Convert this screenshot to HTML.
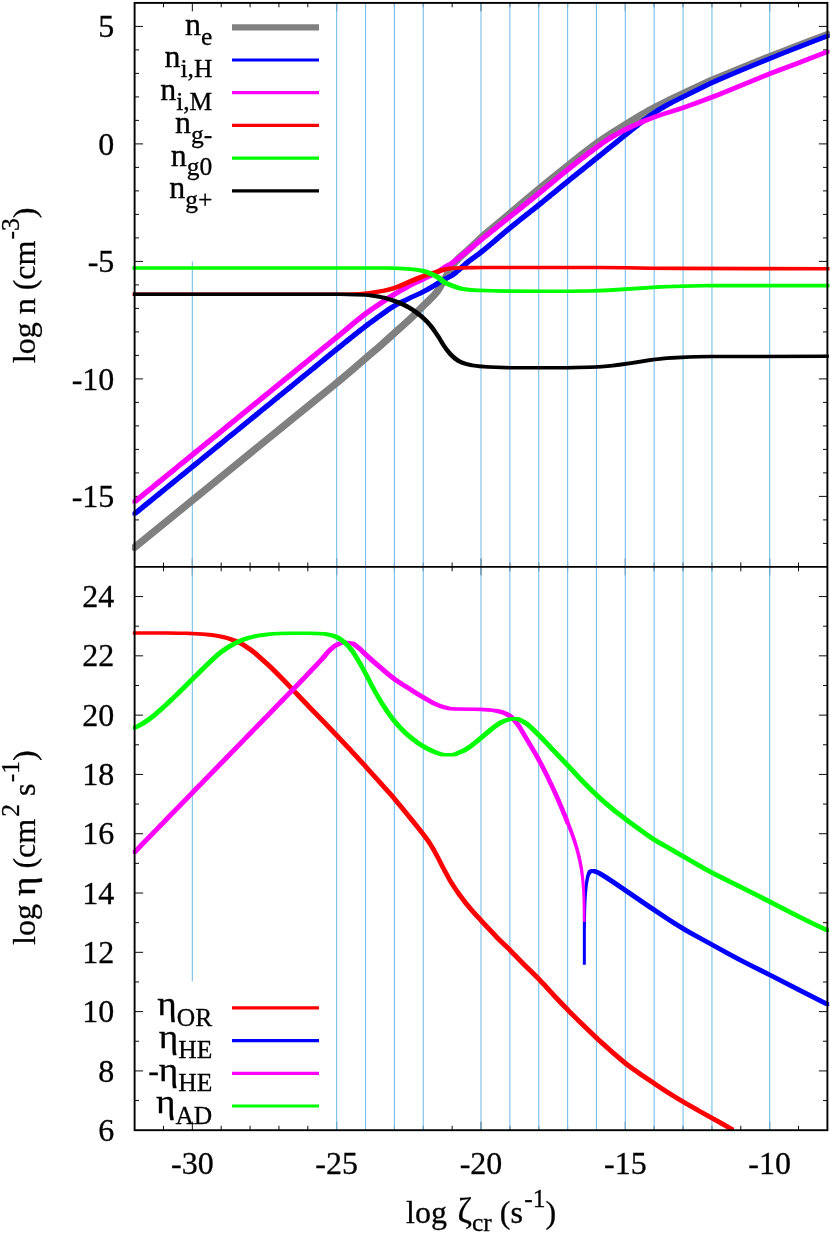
<!DOCTYPE html>
<html><head><meta charset="utf-8"><title>chart</title>
<style>html,body{margin:0;padding:0;background:#fff}body{width:830px;height:1235px;position:relative;overflow:hidden;font-family:"Liberation Serif",serif}</style>
</head><body>
<svg width="830" height="1235" viewBox="0 0 830 1235" style="will-change:transform;position:absolute;left:0;top:0;font-family:'Liberation Serif',serif">
<style>text{stroke:#000;stroke-width:0.3px;paint-order:stroke fill}</style>
<rect width="830" height="1235" fill="#fff"/>
<g stroke="#000" fill="none" stroke-width="0.95">
<line x1="163.47" x2="163.47" y1="2.9" y2="7.30"/>
<line x1="163.47" x2="163.47" y1="566.9" y2="562.50"/>
<line x1="163.47" x2="163.47" y1="566.9" y2="571.30"/>
<line x1="163.47" x2="163.47" y1="1130.2" y2="1125.80"/>
<line x1="192.33" x2="192.33" y1="2.9" y2="11.40"/>
<line x1="192.33" x2="192.33" y1="566.9" y2="558.40"/>
<line x1="192.33" x2="192.33" y1="566.9" y2="575.40"/>
<line x1="192.33" x2="192.33" y1="1130.2" y2="1121.70"/>
<line x1="221.20" x2="221.20" y1="2.9" y2="7.30"/>
<line x1="221.20" x2="221.20" y1="566.9" y2="562.50"/>
<line x1="221.20" x2="221.20" y1="566.9" y2="571.30"/>
<line x1="221.20" x2="221.20" y1="1130.2" y2="1125.80"/>
<line x1="250.07" x2="250.07" y1="2.9" y2="7.30"/>
<line x1="250.07" x2="250.07" y1="566.9" y2="562.50"/>
<line x1="250.07" x2="250.07" y1="566.9" y2="571.30"/>
<line x1="250.07" x2="250.07" y1="1130.2" y2="1125.80"/>
<line x1="278.93" x2="278.93" y1="2.9" y2="7.30"/>
<line x1="278.93" x2="278.93" y1="566.9" y2="562.50"/>
<line x1="278.93" x2="278.93" y1="566.9" y2="571.30"/>
<line x1="278.93" x2="278.93" y1="1130.2" y2="1125.80"/>
<line x1="307.80" x2="307.80" y1="2.9" y2="7.30"/>
<line x1="307.80" x2="307.80" y1="566.9" y2="562.50"/>
<line x1="307.80" x2="307.80" y1="566.9" y2="571.30"/>
<line x1="307.80" x2="307.80" y1="1130.2" y2="1125.80"/>
<line x1="336.67" x2="336.67" y1="2.9" y2="11.40"/>
<line x1="336.67" x2="336.67" y1="566.9" y2="558.40"/>
<line x1="336.67" x2="336.67" y1="566.9" y2="575.40"/>
<line x1="336.67" x2="336.67" y1="1130.2" y2="1121.70"/>
<line x1="365.53" x2="365.53" y1="2.9" y2="7.30"/>
<line x1="365.53" x2="365.53" y1="566.9" y2="562.50"/>
<line x1="365.53" x2="365.53" y1="566.9" y2="571.30"/>
<line x1="365.53" x2="365.53" y1="1130.2" y2="1125.80"/>
<line x1="394.40" x2="394.40" y1="2.9" y2="7.30"/>
<line x1="394.40" x2="394.40" y1="566.9" y2="562.50"/>
<line x1="394.40" x2="394.40" y1="566.9" y2="571.30"/>
<line x1="394.40" x2="394.40" y1="1130.2" y2="1125.80"/>
<line x1="423.27" x2="423.27" y1="2.9" y2="7.30"/>
<line x1="423.27" x2="423.27" y1="566.9" y2="562.50"/>
<line x1="423.27" x2="423.27" y1="566.9" y2="571.30"/>
<line x1="423.27" x2="423.27" y1="1130.2" y2="1125.80"/>
<line x1="452.13" x2="452.13" y1="2.9" y2="7.30"/>
<line x1="452.13" x2="452.13" y1="566.9" y2="562.50"/>
<line x1="452.13" x2="452.13" y1="566.9" y2="571.30"/>
<line x1="452.13" x2="452.13" y1="1130.2" y2="1125.80"/>
<line x1="481.00" x2="481.00" y1="2.9" y2="11.40"/>
<line x1="481.00" x2="481.00" y1="566.9" y2="558.40"/>
<line x1="481.00" x2="481.00" y1="566.9" y2="575.40"/>
<line x1="481.00" x2="481.00" y1="1130.2" y2="1121.70"/>
<line x1="509.87" x2="509.87" y1="2.9" y2="7.30"/>
<line x1="509.87" x2="509.87" y1="566.9" y2="562.50"/>
<line x1="509.87" x2="509.87" y1="566.9" y2="571.30"/>
<line x1="509.87" x2="509.87" y1="1130.2" y2="1125.80"/>
<line x1="538.73" x2="538.73" y1="2.9" y2="7.30"/>
<line x1="538.73" x2="538.73" y1="566.9" y2="562.50"/>
<line x1="538.73" x2="538.73" y1="566.9" y2="571.30"/>
<line x1="538.73" x2="538.73" y1="1130.2" y2="1125.80"/>
<line x1="567.60" x2="567.60" y1="2.9" y2="7.30"/>
<line x1="567.60" x2="567.60" y1="566.9" y2="562.50"/>
<line x1="567.60" x2="567.60" y1="566.9" y2="571.30"/>
<line x1="567.60" x2="567.60" y1="1130.2" y2="1125.80"/>
<line x1="596.47" x2="596.47" y1="2.9" y2="7.30"/>
<line x1="596.47" x2="596.47" y1="566.9" y2="562.50"/>
<line x1="596.47" x2="596.47" y1="566.9" y2="571.30"/>
<line x1="596.47" x2="596.47" y1="1130.2" y2="1125.80"/>
<line x1="625.33" x2="625.33" y1="2.9" y2="11.40"/>
<line x1="625.33" x2="625.33" y1="566.9" y2="558.40"/>
<line x1="625.33" x2="625.33" y1="566.9" y2="575.40"/>
<line x1="625.33" x2="625.33" y1="1130.2" y2="1121.70"/>
<line x1="654.20" x2="654.20" y1="2.9" y2="7.30"/>
<line x1="654.20" x2="654.20" y1="566.9" y2="562.50"/>
<line x1="654.20" x2="654.20" y1="566.9" y2="571.30"/>
<line x1="654.20" x2="654.20" y1="1130.2" y2="1125.80"/>
<line x1="683.07" x2="683.07" y1="2.9" y2="7.30"/>
<line x1="683.07" x2="683.07" y1="566.9" y2="562.50"/>
<line x1="683.07" x2="683.07" y1="566.9" y2="571.30"/>
<line x1="683.07" x2="683.07" y1="1130.2" y2="1125.80"/>
<line x1="711.93" x2="711.93" y1="2.9" y2="7.30"/>
<line x1="711.93" x2="711.93" y1="566.9" y2="562.50"/>
<line x1="711.93" x2="711.93" y1="566.9" y2="571.30"/>
<line x1="711.93" x2="711.93" y1="1130.2" y2="1125.80"/>
<line x1="740.80" x2="740.80" y1="2.9" y2="7.30"/>
<line x1="740.80" x2="740.80" y1="566.9" y2="562.50"/>
<line x1="740.80" x2="740.80" y1="566.9" y2="571.30"/>
<line x1="740.80" x2="740.80" y1="1130.2" y2="1125.80"/>
<line x1="769.67" x2="769.67" y1="2.9" y2="11.40"/>
<line x1="769.67" x2="769.67" y1="566.9" y2="558.40"/>
<line x1="769.67" x2="769.67" y1="566.9" y2="575.40"/>
<line x1="769.67" x2="769.67" y1="1130.2" y2="1121.70"/>
<line x1="798.53" x2="798.53" y1="2.9" y2="7.30"/>
<line x1="798.53" x2="798.53" y1="566.9" y2="562.50"/>
<line x1="798.53" x2="798.53" y1="566.9" y2="571.30"/>
<line x1="798.53" x2="798.53" y1="1130.2" y2="1125.80"/>
<line x1="134.6" x2="139.0" y1="543.40" y2="543.40"/>
<line x1="827.4" x2="823.0" y1="543.40" y2="543.40"/>
<line x1="134.6" x2="139.0" y1="519.90" y2="519.90"/>
<line x1="827.4" x2="823.0" y1="519.90" y2="519.90"/>
<line x1="134.6" x2="143.1" y1="496.40" y2="496.40"/>
<line x1="827.4" x2="818.9" y1="496.40" y2="496.40"/>
<line x1="134.6" x2="139.0" y1="472.90" y2="472.90"/>
<line x1="827.4" x2="823.0" y1="472.90" y2="472.90"/>
<line x1="134.6" x2="139.0" y1="449.40" y2="449.40"/>
<line x1="827.4" x2="823.0" y1="449.40" y2="449.40"/>
<line x1="134.6" x2="139.0" y1="425.90" y2="425.90"/>
<line x1="827.4" x2="823.0" y1="425.90" y2="425.90"/>
<line x1="134.6" x2="139.0" y1="402.40" y2="402.40"/>
<line x1="827.4" x2="823.0" y1="402.40" y2="402.40"/>
<line x1="134.6" x2="143.1" y1="378.90" y2="378.90"/>
<line x1="827.4" x2="818.9" y1="378.90" y2="378.90"/>
<line x1="134.6" x2="139.0" y1="355.40" y2="355.40"/>
<line x1="827.4" x2="823.0" y1="355.40" y2="355.40"/>
<line x1="134.6" x2="139.0" y1="331.90" y2="331.90"/>
<line x1="827.4" x2="823.0" y1="331.90" y2="331.90"/>
<line x1="134.6" x2="139.0" y1="308.40" y2="308.40"/>
<line x1="827.4" x2="823.0" y1="308.40" y2="308.40"/>
<line x1="134.6" x2="139.0" y1="284.90" y2="284.90"/>
<line x1="827.4" x2="823.0" y1="284.90" y2="284.90"/>
<line x1="134.6" x2="143.1" y1="261.40" y2="261.40"/>
<line x1="827.4" x2="818.9" y1="261.40" y2="261.40"/>
<line x1="134.6" x2="139.0" y1="237.90" y2="237.90"/>
<line x1="827.4" x2="823.0" y1="237.90" y2="237.90"/>
<line x1="134.6" x2="139.0" y1="214.40" y2="214.40"/>
<line x1="827.4" x2="823.0" y1="214.40" y2="214.40"/>
<line x1="134.6" x2="139.0" y1="190.90" y2="190.90"/>
<line x1="827.4" x2="823.0" y1="190.90" y2="190.90"/>
<line x1="134.6" x2="139.0" y1="167.40" y2="167.40"/>
<line x1="827.4" x2="823.0" y1="167.40" y2="167.40"/>
<line x1="134.6" x2="143.1" y1="143.90" y2="143.90"/>
<line x1="827.4" x2="818.9" y1="143.90" y2="143.90"/>
<line x1="134.6" x2="139.0" y1="120.40" y2="120.40"/>
<line x1="827.4" x2="823.0" y1="120.40" y2="120.40"/>
<line x1="134.6" x2="139.0" y1="96.90" y2="96.90"/>
<line x1="827.4" x2="823.0" y1="96.90" y2="96.90"/>
<line x1="134.6" x2="139.0" y1="73.40" y2="73.40"/>
<line x1="827.4" x2="823.0" y1="73.40" y2="73.40"/>
<line x1="134.6" x2="139.0" y1="49.90" y2="49.90"/>
<line x1="827.4" x2="823.0" y1="49.90" y2="49.90"/>
<line x1="134.6" x2="143.1" y1="26.40" y2="26.40"/>
<line x1="827.4" x2="818.9" y1="26.40" y2="26.40"/>
<line x1="134.6" x2="139.0" y1="1100.55" y2="1100.55"/>
<line x1="827.4" x2="823.0" y1="1100.55" y2="1100.55"/>
<line x1="134.6" x2="143.1" y1="1070.91" y2="1070.91"/>
<line x1="827.4" x2="818.9" y1="1070.91" y2="1070.91"/>
<line x1="134.6" x2="139.0" y1="1041.26" y2="1041.26"/>
<line x1="827.4" x2="823.0" y1="1041.26" y2="1041.26"/>
<line x1="134.6" x2="143.1" y1="1011.61" y2="1011.61"/>
<line x1="827.4" x2="818.9" y1="1011.61" y2="1011.61"/>
<line x1="134.6" x2="139.0" y1="981.96" y2="981.96"/>
<line x1="827.4" x2="823.0" y1="981.96" y2="981.96"/>
<line x1="134.6" x2="143.1" y1="952.32" y2="952.32"/>
<line x1="827.4" x2="818.9" y1="952.32" y2="952.32"/>
<line x1="134.6" x2="139.0" y1="922.67" y2="922.67"/>
<line x1="827.4" x2="823.0" y1="922.67" y2="922.67"/>
<line x1="134.6" x2="143.1" y1="893.02" y2="893.02"/>
<line x1="827.4" x2="818.9" y1="893.02" y2="893.02"/>
<line x1="134.6" x2="139.0" y1="863.37" y2="863.37"/>
<line x1="827.4" x2="823.0" y1="863.37" y2="863.37"/>
<line x1="134.6" x2="143.1" y1="833.73" y2="833.73"/>
<line x1="827.4" x2="818.9" y1="833.73" y2="833.73"/>
<line x1="134.6" x2="139.0" y1="804.08" y2="804.08"/>
<line x1="827.4" x2="823.0" y1="804.08" y2="804.08"/>
<line x1="134.6" x2="143.1" y1="774.43" y2="774.43"/>
<line x1="827.4" x2="818.9" y1="774.43" y2="774.43"/>
<line x1="134.6" x2="139.0" y1="744.78" y2="744.78"/>
<line x1="827.4" x2="823.0" y1="744.78" y2="744.78"/>
<line x1="134.6" x2="143.1" y1="715.14" y2="715.14"/>
<line x1="827.4" x2="818.9" y1="715.14" y2="715.14"/>
<line x1="134.6" x2="139.0" y1="685.49" y2="685.49"/>
<line x1="827.4" x2="823.0" y1="685.49" y2="685.49"/>
<line x1="134.6" x2="143.1" y1="655.84" y2="655.84"/>
<line x1="827.4" x2="818.9" y1="655.84" y2="655.84"/>
<line x1="134.6" x2="139.0" y1="626.19" y2="626.19"/>
<line x1="827.4" x2="823.0" y1="626.19" y2="626.19"/>
<line x1="134.6" x2="143.1" y1="596.55" y2="596.55"/>
<line x1="827.4" x2="818.9" y1="596.55" y2="596.55"/>
</g>
<g stroke="#78bfea" stroke-width="1.1">
<line x1="336.67" x2="336.67" y1="2.9" y2="1130.2"/>
<line x1="365.53" x2="365.53" y1="2.9" y2="1130.2"/>
<line x1="394.40" x2="394.40" y1="2.9" y2="1130.2"/>
<line x1="423.27" x2="423.27" y1="2.9" y2="1130.2"/>
<line x1="481.00" x2="481.00" y1="2.9" y2="1130.2"/>
<line x1="509.87" x2="509.87" y1="2.9" y2="1130.2"/>
<line x1="538.73" x2="538.73" y1="2.9" y2="1130.2"/>
<line x1="567.60" x2="567.60" y1="2.9" y2="1130.2"/>
<line x1="596.47" x2="596.47" y1="2.9" y2="1130.2"/>
<line x1="625.33" x2="625.33" y1="2.9" y2="1130.2"/>
<line x1="654.20" x2="654.20" y1="2.9" y2="1130.2"/>
<line x1="683.07" x2="683.07" y1="2.9" y2="1130.2"/>
<line x1="711.93" x2="711.93" y1="2.9" y2="1130.2"/>
<line x1="769.67" x2="769.67" y1="2.9" y2="1130.2"/>
<line x1="192.33" x2="192.33" y1="261.2" y2="981.2"/>
</g>
<defs><clipPath id="c1"><rect x="132.1" y="2.9" width="697.8" height="564.0"/></clipPath><clipPath id="c2"><rect x="132.1" y="566.9" width="697.8" height="563.3000000000001"/></clipPath></defs>
<g clip-path="url(#c1)" stroke="none">
<path d="M134.6,547.4 L308.1,406.1 L331.7,387.0 L340.1,380.1 L351.2,370.7 L370.6,354.1 L379.0,346.9 L384.5,342.0 L395.6,332.0 L403.9,324.6 L408.1,320.8 L412.3,316.8 L422.0,307.1 L424.8,304.4 L428.9,300.5 L431.7,297.7 L434.5,294.7 L435.9,293.1 L437.3,291.4 L438.7,289.4 L440.0,287.2 L445.6,277.4 L449.8,269.8 L451.1,267.6 L452.5,265.5 L453.9,263.7 L455.3,262.0 L456.7,260.4 L458.1,258.9 L459.5,257.5 L460.9,256.2 L466.4,251.4 L469.2,248.9 L478.9,239.8 L481.7,237.3 L485.9,233.6 L492.8,227.7 L508.1,215.0 L531.7,195.1 L542.8,185.9 L556.7,174.7 L583.0,153.6 L588.6,149.3 L592.8,146.1 L596.9,143.1 L601.1,140.2 L606.6,136.5 L612.2,132.8 L619.1,128.5 L627.5,123.3 L634.4,119.1 L641.4,115.0 L646.9,111.8 L651.1,109.5 L655.2,107.3 L660.8,104.4 L670.5,99.5 L685.8,92.2 L699.7,85.7 L710.8,80.7 L721.9,76.0 L735.8,70.3 L756.6,61.9 L789.9,48.8 L808.0,41.9 L827.4,34.6" fill="none" stroke="#808080" stroke-width="7.3" stroke-linecap="round" stroke-linejoin="round"/>
<path d="M132.5,512.0 134.0,510.9 134.2,510.6 137.0,508.4 137.2,508.1 138.5,507.2 138.8,506.9 140.0,506.0 140.2,505.7 141.5,504.8 141.8,504.5 143.0,503.5 143.2,503.2 144.5,502.3 144.8,502.0 146.0,501.1 146.2,500.8 147.5,499.9 147.8,499.6 149.0,498.6 149.2,498.4 150.5,497.4 150.8,497.1 152.0,496.2 152.2,495.9 153.5,495.0 153.8,494.7 155.2,493.6 155.5,493.3 156.8,492.3 157.0,492.1 158.2,491.1 158.5,490.8 159.8,489.9 160.0,489.6 162.8,487.5 163.0,487.2 164.2,486.2 164.5,485.9 165.8,485.0 166.0,484.7 168.8,482.6 169.0,482.3 171.8,480.1 172.0,479.8 173.2,478.9 173.5,478.6 174.8,477.7 175.0,477.4 176.5,476.3 176.8,476.0 178.0,475.0 178.2,474.8 179.5,473.8 179.8,473.5 181.0,472.6 181.2,472.3 182.5,471.4 182.8,471.1 184.0,470.2 184.2,469.9 185.5,468.9 185.8,468.6 187.0,467.7 187.2,467.4 188.5,466.5 188.8,466.2 190.0,465.3 190.2,465.0 191.5,464.0 191.8,463.8 193.0,462.8 193.2,462.5 194.5,461.6 194.8,461.3 197.5,459.2 197.8,458.9 199.2,457.7 199.5,457.5 200.8,456.5 201.0,456.2 203.8,454.1 204.0,453.8 206.8,451.6 207.0,451.3 208.2,450.4 208.5,450.1 209.8,449.2 210.0,448.9 211.2,448.0 211.5,447.7 212.8,446.7 213.0,446.5 214.2,445.5 214.5,445.2 217.2,443.1 217.5,442.8 218.8,441.9 219.0,441.6 220.5,440.4 220.8,440.2 223.5,438.0 223.8,437.7 225.0,436.8 225.2,436.5 226.5,435.6 226.8,435.3 229.5,433.1 229.8,432.8 232.5,430.7 232.8,430.4 235.5,428.2 235.8,427.9 238.5,425.8 238.8,425.5 241.5,423.3 241.8,423.1 243.2,421.9 243.5,421.6 244.8,420.7 245.0,420.4 246.2,419.5 246.5,419.2 247.8,418.3 248.0,418.0 249.2,417.0 249.5,416.8 252.2,414.6 252.5,414.3 253.8,413.4 254.0,413.1 255.2,412.1 255.5,411.9 256.8,410.9 257.0,410.6 258.2,409.7 258.5,409.4 259.8,408.5 260.0,408.2 261.2,407.3 261.5,407.0 262.8,406.0 263.0,405.8 264.5,404.6 264.8,404.3 267.5,402.2 267.8,401.9 270.5,399.7 270.8,399.5 272.0,398.5 272.2,398.2 273.5,397.3 273.8,397.0 275.0,396.1 275.2,395.8 276.5,394.8 276.8,394.6 278.0,393.6 278.2,393.3 279.5,392.4 279.8,392.1 281.0,391.2 281.2,390.9 284.0,388.7 284.2,388.5 285.5,387.5 285.8,387.2 287.2,386.1 287.5,385.8 288.8,384.9 289.0,384.6 290.2,383.7 290.5,383.4 291.8,382.4 292.0,382.2 293.2,381.2 293.5,380.9 294.8,380.0 295.0,379.7 296.2,378.8 296.5,378.5 297.8,377.5 298.0,377.3 299.2,376.3 299.5,376.0 300.8,375.1 301.0,374.8 302.2,373.9 302.5,373.6 303.8,372.7 304.0,372.4 306.8,370.2 307.0,369.9 308.5,368.8 308.8,368.5 310.0,367.6 310.2,367.3 311.5,366.4 311.8,366.1 313.0,365.1 313.2,364.8 314.5,363.9 314.8,363.6 317.5,361.4 317.8,361.2 319.0,360.2 319.2,359.9 320.5,359.0 320.8,358.7 322.0,357.8 322.2,357.5 323.5,356.5 323.8,356.3 325.0,355.3 325.2,355.0 326.5,354.1 326.8,353.8 328.0,352.9 328.2,352.6 331.2,350.3 331.5,350.0 334.2,347.8 334.5,347.6 335.8,346.6 336.0,346.3 337.2,345.4 337.5,345.1 338.8,344.2 339.0,343.9 340.2,343.0 340.5,342.7 341.8,341.8 342.0,341.5 343.2,340.5 343.5,340.3 344.8,339.3 345.0,339.0 346.2,338.1 346.5,337.8 347.8,336.9 348.0,336.6 349.2,335.7 349.5,335.4 350.8,334.5 351.0,334.2 352.5,333.1 352.8,332.8 355.5,330.7 355.8,330.4 357.0,329.5 357.2,329.3 358.5,328.3 358.8,328.1 360.0,327.2 360.2,326.9 363.0,324.9 363.2,324.6 364.5,323.7 364.8,323.5 366.0,322.6 366.2,322.3 367.5,321.5 367.8,321.2 370.5,319.3 370.8,319.0 373.8,316.9 374.0,316.7 375.2,315.8 375.5,315.6 376.8,314.8 377.0,314.5 378.2,313.7 378.5,313.4 379.8,312.6 380.0,312.4 381.2,311.5 381.5,311.3 382.8,310.5 383.0,310.2 385.8,308.3 386.0,308.1 387.2,307.3 387.5,307.1 392.0,304.2 394.8,302.7 395.0,302.5 399.8,300.1 405.5,297.4 408.8,295.8 417.8,291.7 422.2,289.4 422.5,289.2 423.8,288.6 424.0,288.4 426.8,286.9 427.0,286.7 428.2,286.1 428.5,285.9 429.8,285.2 430.0,285.0 432.8,283.4 433.0,283.2 434.2,282.6 434.5,282.3 437.2,280.7 437.5,280.5 438.8,279.8 439.0,279.6 442.0,277.8 442.2,277.6 443.8,276.7 448.0,274.7 449.5,273.9 451.0,272.9 451.2,272.6 452.5,271.7 452.8,271.5 454.0,270.5 454.2,270.2 455.5,269.2 455.8,268.9 458.5,266.6 458.8,266.3 460.0,265.3 460.2,264.9 461.8,263.7 462.0,263.4 463.2,262.4 463.5,262.1 464.8,261.1 465.0,260.8 466.2,259.9 466.5,259.6 467.8,258.8 468.0,258.5 469.2,257.6 469.5,257.4 470.8,256.5 471.0,256.3 472.2,255.5 472.5,255.2 473.8,254.4 474.0,254.1 476.8,252.2 477.0,251.9 478.2,251.0 478.5,250.8 481.2,248.6 481.5,248.4 482.8,247.4 483.0,247.1 484.5,246.0 484.8,245.7 487.5,243.5 487.8,243.2 489.0,242.2 489.2,241.9 490.5,241.0 490.8,240.7 492.0,239.7 492.2,239.4 493.5,238.4 493.8,238.1 496.5,235.8 496.8,235.5 498.0,234.5 498.2,234.2 499.5,233.2 499.8,233.0 501.0,232.0 501.2,231.7 504.0,229.4 504.2,229.1 505.8,228.0 506.0,227.7 507.2,226.7 507.5,226.5 508.8,225.5 509.0,225.2 511.8,223.1 512.0,222.8 513.2,221.9 513.5,221.6 514.8,220.7 515.0,220.4 516.2,219.5 516.5,219.2 517.8,218.3 518.0,218.0 519.2,217.1 519.5,216.8 520.8,215.9 521.0,215.6 522.2,214.7 522.5,214.4 523.8,213.5 524.0,213.3 525.2,212.3 525.5,212.1 526.8,211.2 527.0,210.9 528.5,209.8 528.8,209.5 530.0,208.6 530.2,208.3 531.5,207.4 531.8,207.1 533.0,206.2 533.2,205.9 536.0,203.8 536.2,203.5 537.5,202.6 537.8,202.3 539.0,201.4 539.2,201.1 540.5,200.2 540.8,199.9 542.0,198.9 542.2,198.7 543.5,197.7 543.8,197.4 545.0,196.5 545.2,196.2 548.0,194.0 548.2,193.8 549.8,192.6 550.0,192.4 551.2,191.4 551.5,191.1 552.8,190.2 553.0,189.9 554.2,189.0 554.5,188.7 555.8,187.7 556.0,187.4 557.2,186.5 557.5,186.2 558.8,185.3 559.0,185.0 560.2,184.1 560.5,183.8 561.8,182.8 562.0,182.5 564.8,180.4 565.0,180.1 566.2,179.2 566.5,178.9 569.2,176.7 569.5,176.5 571.0,175.3 571.2,175.1 574.0,172.9 574.2,172.6 575.5,171.7 575.8,171.4 577.0,170.5 577.2,170.2 578.5,169.3 578.8,169.0 580.0,168.1 580.2,167.8 581.5,166.9 581.8,166.6 583.0,165.7 583.2,165.4 584.5,164.5 584.8,164.2 586.0,163.3 586.2,163.0 587.5,162.0 587.8,161.8 589.0,160.8 589.2,160.6 590.5,159.6 590.8,159.3 592.0,158.4 592.2,158.1 593.8,157.0 594.0,156.7 595.2,155.8 595.5,155.5 596.8,154.6 597.0,154.3 598.2,153.4 598.5,153.1 599.8,152.2 600.0,151.9 601.2,151.0 601.5,150.7 604.2,148.5 604.5,148.3 605.8,147.3 606.0,147.1 607.2,146.1 607.5,145.8 608.8,144.9 609.0,144.6 611.8,142.5 612.0,142.2 613.2,141.3 613.5,141.0 615.0,139.9 615.2,139.6 616.5,138.7 616.8,138.4 618.0,137.5 618.2,137.2 619.5,136.3 619.8,136.0 621.0,135.0 621.2,134.8 622.5,133.8 622.8,133.6 624.0,132.6 624.2,132.4 625.5,131.4 625.8,131.2 628.5,129.0 628.8,128.7 630.0,127.8 630.2,127.5 633.0,125.4 633.2,125.1 634.5,124.2 634.8,123.9 636.0,123.0 636.2,122.7 637.8,121.7 638.0,121.4 640.8,119.4 641.0,119.1 642.2,118.2 642.5,118.0 643.8,117.1 644.0,116.9 646.8,114.9 647.0,114.6 648.2,113.8 648.5,113.6 649.8,112.7 650.0,112.5 652.8,110.7 653.0,110.5 654.2,109.7 654.5,109.5 657.2,107.8 657.5,107.6 659.0,106.8 659.2,106.6 662.0,105.0 662.2,104.8 663.5,104.1 663.8,103.9 665.0,103.3 665.2,103.1 669.8,100.7 701.5,84.9 710.8,80.6 719.8,76.6 739.5,68.2 751.8,63.2 786.5,49.2 806.2,41.5 825.2,34.3 825.5,34.2 829.5,34.2 829.5,37.8 817.5,42.3 799.2,49.4 785.5,54.8 764.2,63.4 762.8,64.0 741.5,72.7 728.0,78.4 718.8,82.4 711.2,85.8 703.8,89.4 673.2,104.6 673.0,104.8 671.8,105.4 671.5,105.6 668.8,107.0 668.5,107.2 667.2,107.9 667.0,108.1 665.8,108.7 665.5,108.9 662.8,110.5 662.5,110.7 661.2,111.4 661.0,111.7 658.2,113.3 658.0,113.6 656.8,114.3 656.5,114.5 653.5,116.5 653.2,116.8 652.0,117.6 651.8,117.8 650.5,118.7 650.2,118.9 647.5,120.9 647.2,121.1 644.5,123.2 644.2,123.4 641.5,125.5 641.2,125.7 640.0,126.6 639.8,126.9 637.0,129.0 636.8,129.3 635.5,130.2 635.2,130.5 632.5,132.6 632.2,132.9 630.8,134.0 630.5,134.3 629.2,135.2 629.0,135.5 627.8,136.4 627.5,136.7 626.2,137.6 626.0,137.9 624.8,138.8 624.5,139.1 623.2,140.0 623.0,140.3 621.8,141.2 621.5,141.5 620.2,142.5 620.0,142.7 618.8,143.7 618.5,143.9 617.2,144.9 617.0,145.2 615.8,146.1 615.5,146.4 614.2,147.3 614.0,147.6 611.2,149.7 611.0,150.0 609.5,151.1 609.2,151.4 608.0,152.3 607.8,152.6 606.5,153.5 606.2,153.8 605.0,154.8 604.8,155.0 603.5,156.0 603.2,156.2 602.0,157.2 601.8,157.5 600.5,158.4 600.2,158.7 599.0,159.6 598.8,159.9 597.5,160.8 597.2,161.1 596.0,162.0 595.8,162.3 594.5,163.2 594.2,163.5 593.0,164.4 592.8,164.7 590.0,166.9 589.8,167.1 588.2,168.2 588.0,168.5 586.8,169.5 586.5,169.7 585.2,170.7 585.0,170.9 583.8,171.9 583.5,172.2 582.2,173.1 582.0,173.4 580.8,174.3 580.5,174.6 579.2,175.5 579.0,175.8 577.8,176.7 577.5,177.0 576.2,177.9 576.0,178.2 573.2,180.3 573.0,180.6 570.2,182.8 570.0,183.1 567.2,185.2 567.0,185.5 565.5,186.6 565.2,186.9 564.0,187.8 563.8,188.1 562.5,189.1 562.2,189.3 561.0,190.3 560.8,190.6 559.5,191.5 559.2,191.8 558.0,192.7 557.8,193.0 555.0,195.2 554.8,195.5 553.5,196.4 553.2,196.7 552.0,197.6 551.8,197.9 550.5,198.9 550.2,199.2 549.0,200.1 548.8,200.4 547.5,201.3 547.2,201.6 546.0,202.5 545.8,202.8 544.2,203.9 544.0,204.2 542.8,205.2 542.5,205.4 541.2,206.4 541.0,206.7 539.8,207.6 539.5,207.9 536.8,210.0 536.5,210.3 535.2,211.2 535.0,211.5 533.8,212.4 533.5,212.6 532.2,213.6 532.0,213.8 530.8,214.8 530.5,215.0 529.2,215.9 529.0,216.2 527.8,217.1 527.5,217.4 526.2,218.3 526.0,218.6 524.8,219.5 524.5,219.8 521.5,222.1 521.2,222.3 520.0,223.3 519.8,223.5 518.5,224.5 518.2,224.7 515.5,226.9 515.2,227.2 514.0,228.1 513.8,228.4 512.5,229.3 512.2,229.6 511.0,230.5 510.8,230.8 508.0,233.0 507.8,233.3 506.5,234.3 506.2,234.6 505.0,235.6 504.8,235.9 502.0,238.1 501.8,238.4 500.2,239.6 500.0,239.9 498.8,240.9 498.5,241.2 497.2,242.2 497.0,242.5 495.8,243.5 495.5,243.8 494.2,244.8 494.0,245.1 491.2,247.3 491.0,247.6 489.8,248.6 489.5,248.8 488.2,249.8 488.0,250.1 486.8,251.0 486.5,251.3 483.8,253.4 483.5,253.7 482.2,254.6 482.0,254.9 480.8,255.8 480.5,256.0 479.2,256.9 479.0,257.1 477.5,258.1 477.2,258.4 476.0,259.2 475.8,259.5 474.5,260.3 474.2,260.6 473.0,261.4 472.8,261.7 471.5,262.5 471.2,262.8 470.0,263.7 469.8,264.0 468.5,264.9 468.2,265.2 467.0,266.2 466.8,266.5 465.5,267.5 465.2,267.8 464.0,268.9 463.8,269.2 462.5,270.2 462.2,270.5 461.0,271.5 460.8,271.8 459.5,272.8 459.2,273.1 458.0,274.1 457.8,274.4 456.2,275.5 456.0,275.8 454.8,276.6 454.5,276.9 453.0,277.8 451.5,278.6 448.8,279.9 447.2,280.6 447.0,280.8 445.8,281.5 445.5,281.7 442.8,283.4 442.5,283.6 441.2,284.3 441.0,284.6 438.2,286.2 438.0,286.4 435.2,287.9 435.0,288.1 433.5,288.9 433.2,289.2 432.0,289.8 431.8,290.0 429.0,291.5 428.8,291.7 427.5,292.3 427.2,292.5 424.2,294.1 421.2,295.5 412.2,299.6 409.0,301.3 404.8,303.2 400.2,305.5 400.0,305.7 397.2,307.1 397.0,307.3 395.8,308.0 395.5,308.2 394.2,308.9 394.0,309.1 392.8,309.9 392.5,310.1 391.0,311.0 390.8,311.3 389.5,312.1 389.2,312.3 388.0,313.2 387.8,313.4 386.5,314.2 386.2,314.5 383.5,316.4 383.2,316.6 382.0,317.5 381.8,317.7 380.5,318.5 380.2,318.8 379.0,319.6 378.8,319.8 377.5,320.7 377.2,320.9 376.0,321.8 375.8,322.0 373.0,324.0 372.8,324.2 371.5,325.1 371.2,325.3 370.0,326.2 369.8,326.5 366.8,328.6 366.5,328.9 365.2,329.8 365.0,330.1 363.8,331.0 363.5,331.2 362.2,332.1 362.0,332.4 359.2,334.5 359.0,334.8 357.8,335.7 357.5,336.0 356.2,336.9 356.0,337.2 354.8,338.1 354.5,338.4 353.2,339.3 353.0,339.6 351.8,340.5 351.5,340.8 348.8,342.9 348.5,343.2 347.0,344.3 346.8,344.6 345.5,345.5 345.2,345.8 344.0,346.8 343.8,347.0 342.5,348.0 342.2,348.3 341.0,349.2 340.8,349.5 339.5,350.4 339.2,350.7 338.0,351.6 337.8,351.9 336.5,352.8 336.2,353.1 335.0,354.0 334.8,354.3 333.5,355.3 333.2,355.5 332.0,356.5 331.8,356.8 330.5,357.7 330.2,358.0 329.0,358.9 328.8,359.2 327.5,360.1 327.2,360.4 326.0,361.4 325.8,361.7 324.2,362.8 324.0,363.1 322.8,364.0 322.5,364.3 321.2,365.2 321.0,365.5 319.8,366.5 319.5,366.7 318.2,367.7 318.0,368.0 316.8,368.9 316.5,369.2 313.8,371.4 313.5,371.6 312.2,372.6 312.0,372.9 310.8,373.8 310.5,374.1 307.8,376.3 307.5,376.5 306.2,377.5 306.0,377.8 304.8,378.7 304.5,379.0 303.0,380.1 302.8,380.4 301.5,381.3 301.2,381.6 300.0,382.6 299.8,382.8 298.5,383.8 298.2,384.1 297.0,385.0 296.8,385.3 294.0,387.4 293.8,387.7 291.0,389.9 290.8,390.2 288.0,392.3 287.8,392.6 286.5,393.6 286.2,393.8 285.0,394.8 284.8,395.1 283.5,396.0 283.2,396.3 282.0,397.2 281.8,397.5 280.2,398.6 280.0,398.9 278.8,399.9 278.5,400.1 275.8,402.3 275.5,402.6 272.8,404.7 272.5,405.0 269.8,407.2 269.5,407.5 268.2,408.4 268.0,408.7 266.8,409.6 266.5,409.9 265.2,410.9 265.0,411.1 262.2,413.3 262.0,413.6 260.8,414.5 260.5,414.8 259.0,415.9 258.8,416.2 257.5,417.2 257.2,417.4 256.0,418.4 255.8,418.7 254.5,419.6 254.2,419.9 251.5,422.0 251.2,422.3 248.5,424.5 248.2,424.8 245.5,426.9 245.2,427.2 242.5,429.4 242.2,429.7 241.0,430.6 240.8,430.9 239.5,431.8 239.2,432.1 238.0,433.0 237.8,433.3 236.2,434.5 236.0,434.7 234.8,435.7 234.5,436.0 233.2,436.9 233.0,437.2 231.8,438.1 231.5,438.4 230.2,439.3 230.0,439.6 228.8,440.6 228.5,440.8 227.2,441.8 227.0,442.1 225.8,443.0 225.5,443.3 222.8,445.5 222.5,445.7 219.8,447.9 219.5,448.2 216.8,450.3 216.5,450.6 215.0,451.8 214.8,452.0 213.5,453.0 213.2,453.3 210.5,455.4 210.2,455.7 209.0,456.6 208.8,456.9 206.0,459.1 205.8,459.4 204.5,460.3 204.2,460.6 203.0,461.5 202.8,461.8 201.5,462.8 201.2,463.0 200.0,464.0 199.8,464.3 198.5,465.2 198.2,465.5 197.0,466.4 196.8,466.7 194.0,468.9 193.8,469.1 192.2,470.3 192.0,470.6 189.2,472.7 189.0,473.0 187.8,473.9 187.5,474.2 186.2,475.2 186.0,475.4 184.8,476.4 184.5,476.7 183.2,477.6 183.0,477.9 181.8,478.8 181.5,479.1 180.2,480.1 180.0,480.3 178.8,481.3 178.5,481.6 177.2,482.5 177.0,482.8 175.8,483.7 175.5,484.0 174.2,484.9 174.0,485.2 172.8,486.2 172.5,486.4 171.0,487.6 170.8,487.9 169.5,488.8 169.2,489.1 168.0,490.0 167.8,490.3 166.5,491.2 166.2,491.5 165.0,492.5 164.8,492.7 162.0,494.9 161.8,495.2 159.0,497.4 158.8,497.6 156.0,499.8 155.8,500.1 153.0,502.2 152.8,502.5 151.5,503.5 151.2,503.7 149.8,504.9 149.5,505.2 148.2,506.1 148.0,506.4 145.2,508.5 145.0,508.8 143.8,509.8 143.5,510.0 142.2,511.0 142.0,511.3 140.8,512.2 140.5,512.5 139.2,513.4 139.0,513.7 137.8,514.6 137.5,514.9 136.8,515.5 136.5,515.6 132.5,515.6Z" fill="#0000ff"/>
<path d="M132.5,500.0 134.0,498.9 134.2,498.6 135.5,497.7 135.8,497.4 137.0,496.4 137.2,496.2 138.5,495.2 138.8,494.9 140.0,494.0 140.2,493.7 141.5,492.8 141.8,492.5 143.0,491.5 143.2,491.3 144.5,490.3 144.8,490.0 146.0,489.1 146.2,488.8 147.5,487.9 147.8,487.6 149.0,486.7 149.2,486.4 150.5,485.4 150.8,485.2 152.0,484.2 152.2,483.9 153.5,483.0 153.8,482.7 155.2,481.6 155.5,481.3 158.2,479.1 158.5,478.9 159.8,477.9 160.0,477.6 161.2,476.7 161.5,476.4 162.8,475.5 163.0,475.2 164.2,474.2 164.5,474.0 165.8,473.0 166.0,472.7 167.2,471.8 167.5,471.5 168.8,470.6 169.0,470.3 170.2,469.4 170.5,469.1 171.8,468.1 172.0,467.9 174.8,465.7 175.0,465.4 176.5,464.3 176.8,464.0 178.0,463.1 178.2,462.8 179.5,461.8 179.8,461.6 181.0,460.6 181.2,460.3 182.5,459.4 182.8,459.1 184.0,458.2 184.2,457.9 185.5,456.9 185.8,456.7 187.0,455.7 187.2,455.4 188.5,454.5 188.8,454.2 190.0,453.3 190.2,453.0 191.5,452.1 191.8,451.8 193.0,450.8 193.2,450.6 194.5,449.6 194.8,449.3 197.5,447.2 197.8,446.9 199.2,445.8 199.5,445.5 200.8,444.5 201.0,444.3 202.2,443.3 202.5,443.0 203.8,442.1 204.0,441.8 205.2,440.9 205.5,440.6 206.8,439.6 207.0,439.4 208.2,438.4 208.5,438.1 209.8,437.2 210.0,436.9 211.2,436.0 211.5,435.7 212.8,434.8 213.0,434.5 214.2,433.5 214.5,433.3 215.8,432.3 216.0,432.0 217.2,431.1 217.5,430.8 218.8,429.9 219.0,429.6 220.5,428.5 220.8,428.2 222.0,427.2 222.2,427.0 223.5,426.0 223.8,425.7 225.0,424.8 225.2,424.5 226.5,423.6 226.8,423.3 228.0,422.3 228.2,422.1 229.5,421.1 229.8,420.8 231.0,419.9 231.2,419.6 232.5,418.7 232.8,418.4 234.0,417.5 234.2,417.2 235.5,416.2 235.8,416.0 237.0,415.0 237.2,414.7 238.5,413.8 238.8,413.5 240.0,412.6 240.2,412.3 241.5,411.3 241.8,411.1 243.2,409.9 243.5,409.7 244.8,408.7 245.0,408.4 246.2,407.5 246.5,407.2 247.8,406.3 248.0,406.0 249.2,405.0 249.5,404.8 252.2,402.6 252.5,402.3 253.8,401.4 254.0,401.1 255.2,400.2 255.5,399.9 256.8,398.9 257.0,398.7 258.2,397.7 258.5,397.4 259.8,396.5 260.0,396.2 262.8,394.0 263.0,393.8 264.5,392.6 264.8,392.4 267.5,390.2 267.8,389.9 270.5,387.8 270.8,387.5 272.0,386.5 272.2,386.2 273.5,385.3 273.8,385.0 275.0,384.1 275.2,383.8 276.5,382.9 276.8,382.6 278.0,381.6 278.2,381.4 279.5,380.4 279.8,380.1 282.5,378.0 282.8,377.7 284.0,376.8 284.2,376.5 285.5,375.5 285.8,375.2 287.2,374.1 287.5,373.8 288.8,372.9 289.0,372.6 290.2,371.7 290.5,371.4 291.8,370.5 292.0,370.2 293.2,369.2 293.5,368.9 294.8,368.0 295.0,367.7 296.2,366.8 296.5,366.5 297.8,365.6 298.0,365.3 299.2,364.3 299.5,364.1 300.8,363.1 301.0,362.8 302.2,361.9 302.5,361.6 303.8,360.7 304.0,360.4 305.2,359.5 305.5,359.2 306.8,358.2 307.0,357.9 308.5,356.8 308.8,356.5 310.0,355.6 310.2,355.3 311.5,354.4 311.8,354.1 313.0,353.2 313.2,352.9 314.5,351.9 314.8,351.6 316.0,350.7 316.2,350.4 317.5,349.5 317.8,349.2 319.0,348.3 319.2,348.0 320.5,347.0 320.8,346.8 322.0,345.8 322.2,345.5 323.5,344.6 323.8,344.3 326.5,342.2 326.8,341.9 328.0,340.9 328.2,340.6 329.5,339.7 329.8,339.4 331.2,338.3 331.5,338.0 334.2,335.9 334.5,335.6 335.8,334.6 336.0,334.3 338.8,332.2 339.0,331.9 340.2,330.9 340.5,330.6 341.8,329.7 342.0,329.4 344.8,327.1 345.0,326.9 346.2,325.9 346.5,325.6 349.2,323.4 349.5,323.1 350.8,322.1 351.0,321.9 354.0,319.5 354.2,319.2 357.0,317.1 357.2,316.8 358.5,315.9 358.8,315.6 361.5,313.5 361.8,313.3 364.5,311.3 364.8,311.0 366.0,310.2 366.2,309.9 369.0,308.0 369.2,307.8 372.0,306.0 372.2,305.7 373.8,304.8 374.0,304.5 375.2,303.7 375.5,303.5 376.8,302.7 377.0,302.5 379.8,300.7 380.0,300.5 382.8,298.7 383.0,298.5 384.2,297.7 384.5,297.5 385.8,296.7 386.0,296.5 387.2,295.7 387.5,295.5 390.2,293.8 390.5,293.6 391.8,292.9 392.0,292.7 394.8,291.1 395.0,290.9 396.5,290.1 396.8,289.9 398.0,289.2 398.2,289.0 399.5,288.3 399.8,288.1 402.5,286.6 402.8,286.4 408.8,283.2 413.2,281.0 420.8,277.5 422.5,276.6 429.8,273.2 434.2,271.0 437.2,269.2 437.5,269.0 438.8,268.2 439.0,268.0 440.5,267.1 440.8,266.8 442.0,266.1 442.2,265.8 445.2,264.1 448.0,262.6 448.2,262.4 449.5,261.7 449.8,261.4 451.0,260.6 451.2,260.4 452.5,259.5 452.8,259.3 454.0,258.3 454.2,258.1 455.5,257.1 455.8,256.8 458.5,254.7 458.8,254.4 460.0,253.5 460.2,253.2 461.8,252.0 462.0,251.8 463.2,250.8 463.5,250.5 464.8,249.6 465.0,249.3 466.2,248.4 466.5,248.1 467.8,247.1 468.0,246.9 469.2,245.9 469.5,245.6 470.8,244.7 471.0,244.4 472.2,243.5 472.5,243.2 473.8,242.2 474.0,242.0 475.2,241.0 475.5,240.7 476.8,239.8 477.0,239.5 478.2,238.6 478.5,238.3 481.2,236.2 481.5,235.9 484.5,233.6 484.8,233.3 487.5,231.2 487.8,230.9 489.0,230.0 489.2,229.7 490.5,228.8 490.8,228.5 492.0,227.6 492.2,227.3 493.5,226.4 493.8,226.1 495.0,225.2 495.2,224.9 496.5,224.0 496.8,223.7 498.0,222.8 498.2,222.5 499.5,221.6 499.8,221.4 501.0,220.4 501.2,220.2 504.0,218.0 504.2,217.8 505.8,216.7 506.0,216.4 507.2,215.5 507.5,215.2 508.8,214.3 509.0,214.0 510.2,213.0 510.5,212.8 511.8,211.8 512.0,211.6 513.2,210.6 513.5,210.4 514.8,209.4 515.0,209.2 516.2,208.2 516.5,208.0 517.8,207.0 518.0,206.7 519.2,205.8 519.5,205.5 520.8,204.6 521.0,204.3 522.2,203.4 522.5,203.1 523.8,202.2 524.0,201.9 526.8,199.8 527.0,199.5 528.5,198.4 528.8,198.1 530.0,197.2 530.2,196.9 531.5,195.9 531.8,195.7 533.0,194.7 533.2,194.4 534.5,193.5 534.8,193.2 536.0,192.3 536.2,192.0 537.5,191.1 537.8,190.8 540.5,188.6 540.8,188.3 542.0,187.4 542.2,187.1 543.5,186.1 543.8,185.8 545.0,184.9 545.2,184.6 546.5,183.6 546.8,183.3 548.0,182.4 548.2,182.1 549.8,180.9 550.0,180.7 552.8,178.5 553.0,178.2 554.2,177.2 554.5,176.9 555.8,176.0 556.0,175.7 557.2,174.7 557.5,174.4 558.8,173.5 559.0,173.2 561.8,171.0 562.0,170.8 563.2,169.8 563.5,169.6 564.8,168.6 565.0,168.4 566.2,167.4 566.5,167.2 567.8,166.2 568.0,166.0 569.2,165.0 569.5,164.8 571.0,163.7 571.2,163.4 574.0,161.3 574.2,161.0 575.5,160.1 575.8,159.8 577.0,158.9 577.2,158.6 578.5,157.7 578.8,157.4 580.0,156.5 580.2,156.3 583.0,154.2 583.2,153.9 584.5,153.1 584.8,152.8 586.0,151.9 586.2,151.6 589.0,149.6 589.2,149.4 592.0,147.4 592.2,147.2 593.8,146.2 594.0,145.9 595.2,145.1 595.5,144.8 596.8,144.0 597.0,143.7 599.8,141.9 600.0,141.6 602.8,139.8 603.0,139.5 604.2,138.7 604.5,138.5 605.8,137.8 606.0,137.5 608.8,135.8 609.0,135.6 611.8,134.0 612.0,133.8 613.2,133.2 613.5,133.0 616.5,131.4 616.8,131.2 618.0,130.5 618.2,130.4 624.2,127.3 628.8,125.1 634.8,122.4 642.5,119.1 648.5,116.7 653.0,115.0 657.5,113.4 663.8,111.4 675.5,107.8 681.8,105.7 692.2,102.0 703.0,98.0 712.0,94.5 718.0,92.2 754.8,77.2 768.2,71.8 780.5,67.1 795.5,61.4 824.5,50.3 825.5,50.0 829.5,50.0 829.5,53.6 828.0,54.1 796.0,66.4 782.5,71.5 772.0,75.5 758.2,81.0 721.8,95.9 715.5,98.4 706.5,101.8 695.8,105.8 685.2,109.5 679.2,111.5 668.8,114.7 662.8,116.6 656.8,118.7 652.0,120.5 646.0,123.0 638.5,126.2 632.5,128.9 627.8,131.2 623.2,133.5 623.0,133.6 621.8,134.3 621.5,134.5 618.8,135.9 618.5,136.1 617.2,136.8 617.0,137.0 614.2,138.5 614.0,138.7 612.8,139.4 612.5,139.7 609.5,141.5 609.2,141.7 608.0,142.5 607.8,142.7 606.5,143.5 606.2,143.8 603.5,145.6 603.2,145.9 602.0,146.7 601.8,146.9 600.5,147.8 600.2,148.0 599.0,148.8 598.8,149.1 597.5,149.9 597.2,150.2 594.5,152.1 594.2,152.4 593.0,153.2 592.8,153.5 591.5,154.4 591.2,154.6 590.0,155.5 589.8,155.8 586.8,158.0 586.5,158.3 585.2,159.2 585.0,159.4 583.8,160.3 583.5,160.6 582.2,161.5 582.0,161.8 580.8,162.7 580.5,163.0 577.8,165.1 577.5,165.3 576.2,166.2 576.0,166.5 574.8,167.4 574.5,167.7 573.2,168.6 573.0,168.9 571.8,169.8 571.5,170.1 570.2,171.0 570.0,171.3 568.8,172.2 568.5,172.5 567.2,173.4 567.0,173.7 564.0,176.1 563.8,176.3 562.5,177.3 562.2,177.6 561.0,178.5 560.8,178.8 559.5,179.8 559.2,180.0 558.0,181.0 557.8,181.3 556.5,182.2 556.2,182.5 555.0,183.5 554.8,183.8 552.0,186.0 551.8,186.3 550.5,187.2 550.2,187.5 549.0,188.5 548.8,188.8 547.5,189.7 547.2,190.0 546.0,191.0 545.8,191.3 544.2,192.4 544.0,192.7 542.8,193.6 542.5,193.9 539.8,196.1 539.5,196.4 538.2,197.3 538.0,197.6 536.8,198.5 536.5,198.8 535.2,199.7 535.0,200.0 533.8,200.9 533.5,201.2 532.2,202.2 532.0,202.4 529.2,204.6 529.0,204.9 527.8,205.8 527.5,206.1 526.2,207.0 526.0,207.3 524.8,208.2 524.5,208.5 523.2,209.4 523.0,209.7 520.0,212.0 519.8,212.3 518.5,213.2 518.2,213.5 517.0,214.4 516.8,214.7 515.5,215.6 515.2,215.9 514.0,216.8 513.8,217.1 512.5,218.0 512.2,218.3 511.0,219.2 510.8,219.5 509.5,220.4 509.2,220.7 508.0,221.6 507.8,221.9 506.5,222.8 506.2,223.1 505.0,224.0 504.8,224.3 502.0,226.4 501.8,226.7 500.2,227.8 500.0,228.1 498.8,229.0 498.5,229.3 497.2,230.2 497.0,230.5 495.8,231.4 495.5,231.7 494.2,232.6 494.0,232.8 492.8,233.8 492.5,234.0 491.2,235.0 491.0,235.2 489.8,236.2 489.5,236.4 486.8,238.6 486.5,238.8 485.2,239.8 485.0,240.0 482.2,242.2 482.0,242.5 480.8,243.4 480.5,243.7 477.5,246.0 477.2,246.3 476.0,247.3 475.8,247.5 473.0,249.7 472.8,250.0 471.5,250.9 471.2,251.2 470.0,252.2 469.8,252.4 468.5,253.4 468.2,253.7 467.0,254.6 466.8,254.9 464.0,257.1 463.8,257.3 462.5,258.3 462.2,258.6 461.0,259.5 460.8,259.8 459.5,260.7 459.2,261.0 458.0,261.9 457.8,262.2 456.2,263.3 456.0,263.6 454.8,264.4 454.5,264.7 451.5,266.5 450.2,267.2 450.0,267.3 447.2,268.9 447.0,269.1 445.8,269.8 445.5,270.0 444.2,270.8 444.0,271.1 442.8,271.8 442.5,272.1 441.2,272.8 441.0,273.1 438.0,274.8 435.0,276.3 426.0,280.5 424.2,281.4 417.0,284.8 412.2,287.1 406.2,290.4 406.0,290.5 404.8,291.2 404.5,291.4 403.2,292.0 403.0,292.2 400.2,293.8 400.0,294.0 398.8,294.7 398.5,294.9 397.2,295.6 397.0,295.8 394.2,297.4 394.0,297.6 391.0,299.5 390.8,299.7 389.5,300.5 389.2,300.7 386.5,302.4 386.2,302.7 383.5,304.5 383.2,304.7 382.0,305.5 381.8,305.7 380.5,306.5 380.2,306.7 379.0,307.5 378.8,307.7 377.5,308.5 377.2,308.8 374.5,310.6 374.2,310.8 371.5,312.7 371.2,313.0 370.0,313.8 369.8,314.0 368.2,315.1 368.0,315.3 366.8,316.2 366.5,316.4 365.2,317.3 365.0,317.6 362.2,319.7 362.0,319.9 360.8,320.9 360.5,321.1 357.8,323.3 357.5,323.6 356.2,324.5 356.0,324.8 354.8,325.7 354.5,326.0 353.2,327.0 353.0,327.3 351.8,328.2 351.5,328.5 348.8,330.7 348.5,331.0 345.5,333.4 345.2,333.7 344.0,334.7 343.8,335.0 342.5,335.9 342.2,336.2 339.5,338.4 339.2,338.7 336.5,340.9 336.2,341.1 335.0,342.1 334.8,342.4 333.5,343.3 333.2,343.6 332.0,344.5 331.8,344.8 330.5,345.8 330.2,346.0 329.0,347.0 328.8,347.3 327.5,348.2 327.2,348.5 326.0,349.4 325.8,349.7 324.2,350.8 324.0,351.1 322.8,352.1 322.5,352.3 319.8,354.5 319.5,354.8 318.2,355.7 318.0,356.0 316.8,356.9 316.5,357.2 315.2,358.2 315.0,358.4 313.8,359.4 313.5,359.7 312.2,360.6 312.0,360.9 309.2,363.1 309.0,363.3 306.2,365.5 306.0,365.8 304.8,366.7 304.5,367.0 303.0,368.1 302.8,368.4 301.5,369.4 301.2,369.6 298.5,371.8 298.2,372.1 297.0,373.0 296.8,373.3 295.5,374.2 295.2,374.5 294.0,375.5 293.8,375.7 291.0,377.9 290.8,378.2 289.5,379.1 289.2,379.4 288.0,380.4 287.8,380.6 286.5,381.6 286.2,381.9 285.0,382.8 284.8,383.1 283.5,384.0 283.2,384.3 282.0,385.2 281.8,385.5 280.2,386.6 280.0,386.9 278.8,387.9 278.5,388.2 277.2,389.1 277.0,389.4 275.8,390.3 275.5,390.6 274.2,391.5 274.0,391.8 272.8,392.8 272.5,393.0 271.2,394.0 271.0,394.3 269.8,395.2 269.5,395.5 268.2,396.4 268.0,396.7 266.8,397.6 266.5,397.9 265.2,398.9 265.0,399.2 263.8,400.1 263.5,400.4 262.2,401.3 262.0,401.6 260.8,402.5 260.5,402.8 259.0,403.9 258.8,404.2 257.5,405.2 257.2,405.5 256.0,406.4 255.8,406.7 254.5,407.6 254.2,407.9 253.0,408.8 252.8,409.1 251.5,410.1 251.2,410.3 250.0,411.3 249.8,411.6 248.5,412.5 248.2,412.8 247.0,413.7 246.8,414.0 245.5,414.9 245.2,415.2 244.0,416.2 243.8,416.5 242.5,417.4 242.2,417.7 241.0,418.6 240.8,418.9 239.5,419.8 239.2,420.1 238.0,421.1 237.8,421.3 236.2,422.5 236.0,422.8 234.8,423.7 234.5,424.0 233.2,424.9 233.0,425.2 231.8,426.1 231.5,426.4 230.2,427.4 230.0,427.6 228.8,428.6 228.5,428.9 227.2,429.8 227.0,430.1 225.8,431.0 225.5,431.3 224.2,432.2 224.0,432.5 222.8,433.5 222.5,433.8 221.2,434.7 221.0,435.0 219.8,435.9 219.5,436.2 218.2,437.1 218.0,437.4 216.8,438.4 216.5,438.6 215.0,439.8 214.8,440.1 213.5,441.0 213.2,441.3 212.0,442.2 211.8,442.5 210.5,443.4 210.2,443.7 209.0,444.7 208.8,444.9 206.0,447.1 205.8,447.4 203.0,449.5 202.8,449.8 201.5,450.8 201.2,451.1 200.0,452.0 199.8,452.3 197.0,454.4 196.8,454.7 194.0,456.9 193.8,457.2 192.2,458.3 192.0,458.6 190.8,459.5 190.5,459.8 189.2,460.7 189.0,461.0 187.8,462.0 187.5,462.2 186.2,463.2 186.0,463.5 184.8,464.4 184.5,464.7 183.2,465.6 183.0,465.9 181.8,466.8 181.5,467.1 180.2,468.1 180.0,468.3 178.8,469.3 178.5,469.6 177.2,470.5 177.0,470.8 175.8,471.7 175.5,472.0 172.8,474.2 172.5,474.5 171.0,475.6 170.8,475.9 169.5,476.8 169.2,477.1 168.0,478.0 167.8,478.3 166.5,479.3 166.2,479.5 165.0,480.5 164.8,480.8 163.5,481.7 163.2,482.0 162.0,482.9 161.8,483.2 160.5,484.1 160.2,484.4 159.0,485.4 158.8,485.6 157.5,486.6 157.2,486.9 156.0,487.8 155.8,488.1 154.5,489.0 154.2,489.3 153.0,490.3 152.8,490.5 151.5,491.5 151.2,491.8 149.8,492.9 149.5,493.2 148.2,494.1 148.0,494.4 146.8,495.3 146.5,495.6 145.2,496.6 145.0,496.8 143.8,497.8 143.5,498.1 142.2,499.0 142.0,499.3 140.8,500.2 140.5,500.5 139.2,501.4 139.0,501.7 137.8,502.7 137.5,502.9 136.8,503.5 136.5,503.6 132.5,503.6Z" fill="#ff00ff"/>
<path d="M132.5,292.5 335.8,292.5 343.2,292.4 352.5,292.2 358.5,291.9 364.5,291.5 370.5,290.8 378.2,289.6 382.8,288.7 385.8,288.0 388.8,287.2 393.2,285.9 396.5,284.7 399.5,283.5 405.8,280.7 408.5,279.6 416.2,276.3 421.0,274.5 425.5,272.9 435.8,269.8 440.8,268.1 442.2,267.7 445.2,267.1 448.2,266.6 449.8,266.4 454.2,266.2 469.5,265.8 478.0,265.7 600.2,265.7 627.5,265.9 653.5,266.4 681.0,266.6 755.2,266.8 829.5,266.9 829.5,270.5 753.2,270.4 677.2,270.2 650.0,270.0 624.0,269.6 596.8,269.3 482.2,269.3 474.5,269.4 459.5,269.8 454.0,270.0 451.8,270.3 447.2,271.1 445.8,271.5 444.2,271.9 439.5,273.5 429.0,276.7 424.5,278.3 418.5,280.7 413.8,282.7 409.2,284.5 403.0,287.3 400.0,288.5 397.0,289.6 392.5,290.9 389.2,291.8 386.2,292.5 381.8,293.3 374.2,294.5 371.2,294.8 368.0,295.1 362.0,295.5 356.0,295.8 346.8,296.0 340.0,296.1 132.5,296.1Z" fill="#ff0000"/>
<path d="M132.5,266.2 383.0,266.2 389.2,266.3 398.5,266.5 407.5,266.9 413.8,267.4 416.8,267.7 419.8,268.2 422.8,268.7 425.8,269.3 427.2,269.7 428.8,270.3 435.0,272.9 438.0,274.3 438.2,274.5 439.5,275.2 441.0,276.2 441.2,276.4 442.5,277.3 442.8,277.6 444.0,278.6 444.2,278.9 445.5,279.8 445.8,280.0 447.2,280.9 448.8,281.7 451.8,282.9 454.5,283.9 458.0,285.3 461.0,286.3 464.0,287.0 467.0,287.6 471.5,288.1 479.2,288.6 492.8,289.0 509.5,289.3 546.0,289.4 569.2,289.4 581.2,289.3 587.5,289.2 598.2,288.8 608.8,288.3 648.5,285.7 660.8,285.0 677.2,284.4 698.5,283.9 709.5,283.8 829.5,283.8 829.5,287.4 713.5,287.4 703.8,287.5 682.5,287.9 665.8,288.6 653.5,289.2 612.5,291.9 601.8,292.5 589.8,292.8 572.2,293.0 539.2,293.0 504.8,292.9 489.2,292.6 477.0,292.3 472.5,292.0 468.0,291.7 464.0,291.3 462.2,291.1 460.2,290.7 457.2,290.0 455.8,289.6 452.8,288.5 449.5,287.2 446.8,286.1 443.8,284.8 442.2,284.0 440.8,282.9 440.5,282.7 439.0,281.5 438.8,281.2 437.5,280.3 437.2,280.0 435.8,279.0 434.5,278.3 434.2,278.1 432.8,277.3 429.8,276.0 425.2,274.1 423.8,273.5 422.2,273.1 420.8,272.7 417.8,272.1 414.5,271.6 410.0,271.0 404.0,270.5 398.0,270.2 393.2,270.0 384.2,269.8 378.8,269.8 132.5,269.8Z" fill="#00ff00"/>
<path d="M133.0,292.6 342.0,292.6 358.8,292.9 367.8,293.3 370.8,293.5 374.0,293.9 378.5,294.6 383.0,295.4 386.0,296.1 389.0,296.9 395.3,298.9 399.8,300.6 404.3,302.6 408.8,304.8 409.0,305.0 410.3,305.7 410.5,305.9 411.8,306.5 412.0,306.8 413.3,307.5 413.5,307.7 414.8,308.5 415.0,308.7 416.3,309.5 416.5,309.7 418.0,310.8 418.3,311.0 419.5,311.9 419.8,312.2 421.0,313.1 421.3,313.4 422.5,314.3 422.8,314.6 424.0,315.6 424.3,315.9 425.5,316.9 425.8,317.3 427.0,318.4 427.3,318.7 428.5,319.9 428.8,320.3 430.0,321.5 430.3,321.9 431.5,323.2 431.8,323.7 433.0,325.1 433.3,325.5 434.5,327.1 434.8,327.6 436.0,329.2 436.3,329.7 437.5,331.4 437.8,331.9 439.3,334.0 439.5,334.5 440.8,336.3 441.0,336.9 442.3,338.8 442.5,339.4 443.8,341.3 444.0,341.9 445.3,343.7 445.5,344.3 446.8,345.9 447.0,346.4 448.3,347.9 448.5,348.4 449.8,349.8 450.0,350.3 451.3,351.7 451.5,352.0 452.8,353.3 453.0,353.6 454.3,354.7 454.5,355.0 455.8,356.0 456.0,356.3 457.3,357.2 457.5,357.5 458.8,358.3 459.0,358.5 460.5,359.4 463.8,360.9 466.8,362.0 469.8,362.8 472.8,363.4 478.8,364.3 481.8,364.6 486.5,365.0 491.0,365.2 504.8,365.7 510.3,365.9 567.5,365.9 574.5,365.8 586.5,365.5 594.3,365.2 598.8,364.9 604.8,364.4 612.3,363.7 617.0,363.1 630.5,361.2 639.8,359.8 650.5,358.0 658.0,357.2 664.3,356.6 670.3,356.1 687.0,355.3 696.0,354.9 709.8,354.7 828.8,354.6 828.8,358.1 712.5,358.2 698.8,358.4 689.8,358.8 673.0,359.7 667.0,360.1 662.5,360.5 657.8,361.0 653.3,361.6 636.5,364.2 621.3,366.4 615.3,367.2 607.5,368.0 601.5,368.5 597.0,368.7 589.3,369.0 577.3,369.3 570.5,369.4 507.3,369.4 501.8,369.2 488.3,368.7 483.5,368.5 479.0,368.2 476.0,367.8 470.0,366.9 467.0,366.3 464.0,365.6 462.5,365.1 460.8,364.4 459.3,363.8 457.8,363.0 456.3,362.2 456.0,361.9 454.8,361.1 454.5,360.9 453.3,360.0 453.0,359.7 451.8,358.7 451.5,358.4 450.3,357.3 450.0,357.0 448.8,355.8 448.5,355.4 447.3,354.1 447.0,353.6 445.8,352.2 445.5,351.7 444.3,350.2 444.0,349.7 442.8,348.1 442.5,347.6 441.3,345.8 441.0,345.2 439.5,342.9 439.3,342.3 438.0,340.4 437.8,339.8 436.5,338.0 436.3,337.5 435.0,335.8 434.8,335.2 433.5,333.5 433.3,333.0 432.0,331.4 431.8,330.9 430.5,329.3 430.3,328.9 429.0,327.4 428.8,327.0 427.5,325.7 427.3,325.3 426.0,324.0 425.8,323.6 424.5,322.4 424.3,322.1 423.0,321.0 422.8,320.7 421.5,319.6 421.3,319.3 420.0,318.3 419.8,318.0 418.5,317.1 418.3,316.8 416.8,315.7 416.5,315.4 415.3,314.5 415.0,314.3 413.8,313.4 413.5,313.2 412.3,312.4 412.0,312.1 410.8,311.3 410.5,311.1 409.3,310.4 409.0,310.2 407.8,309.5 407.5,309.3 406.3,308.7 406.0,308.5 401.5,306.2 397.0,304.2 392.3,302.4 386.3,300.5 383.3,299.7 380.3,299.0 375.8,298.2 371.0,297.4 368.0,297.1 365.0,296.8 356.0,296.4 339.3,296.1 133.0,296.1Z" fill="#000000"/>
</g>
<g clip-path="url(#c2)" stroke="none">
<path d="M132.8,631.3 168.5,631.3 179.5,631.4 186.8,631.6 197.5,632.0 206.0,632.5 212.3,633.1 218.3,634.0 224.0,635.0 228.5,636.2 231.0,636.9 234.0,638.0 237.0,639.1 239.3,640.1 241.3,641.1 243.3,642.1 245.8,643.6 248.3,645.2 251.8,647.5 254.5,649.6 257.0,651.6 262.0,655.9 269.3,662.5 273.8,666.8 280.3,673.2 280.8,673.8 285.5,678.6 295.0,688.4 295.5,689.0 309.3,703.3 309.8,703.9 323.5,717.9 324.0,718.5 328.8,723.4 338.3,733.4 338.8,734.0 343.0,738.4 352.5,748.6 353.0,749.2 357.3,753.8 366.8,764.1 367.3,764.7 371.5,769.4 381.5,780.4 382.0,781.1 387.3,786.9 393.3,793.6 395.8,796.5 396.3,797.2 398.0,799.2 403.0,805.2 410.5,814.4 411.0,815.1 419.3,825.2 424.8,832.2 425.3,833.0 428.0,836.6 430.5,840.1 433.0,843.9 436.0,849.1 437.8,852.4 438.0,852.7 438.3,853.3 438.5,853.6 438.8,854.2 439.0,854.6 439.5,855.7 439.8,856.0 441.0,858.5 441.3,858.9 444.0,864.4 444.3,864.8 444.5,865.4 444.8,865.7 445.0,866.3 445.3,866.7 446.5,869.2 446.8,869.5 447.0,870.1 447.3,870.4 447.5,871.0 447.8,871.4 448.0,871.9 448.3,872.3 448.5,872.8 448.8,873.2 450.5,876.4 452.5,879.9 453.8,881.9 454.3,882.8 457.3,887.4 461.3,893.1 464.8,897.8 467.3,901.0 468.0,901.9 468.5,902.6 473.5,908.4 478.0,913.4 482.3,918.0 482.8,918.7 490.3,926.8 494.8,931.5 497.0,933.8 497.5,934.4 501.5,938.4 511.3,947.8 511.8,948.4 514.0,950.7 522.3,959.2 525.5,962.5 526.0,963.1 536.3,973.0 540.3,977.0 540.8,977.6 542.5,979.4 546.5,983.6 552.3,989.9 554.5,992.2 555.0,992.9 562.0,1000.3 567.0,1005.6 569.3,1007.8 569.8,1008.4 571.8,1010.5 577.8,1016.4 583.5,1021.9 584.0,1022.5 591.5,1029.8 596.0,1034.1 597.8,1035.7 598.3,1036.2 601.3,1039.0 607.3,1044.3 612.5,1048.9 613.0,1049.4 618.0,1053.8 623.0,1058.1 627.8,1062.0 633.8,1066.5 641.0,1071.6 641.5,1072.0 647.5,1076.1 655.8,1081.5 656.3,1081.9 664.3,1087.2 670.0,1090.9 670.5,1091.2 678.5,1096.2 687.3,1101.5 699.0,1108.1 699.5,1108.5 725.5,1122.8 728.0,1124.2 734.0,1127.8 734.0,1131.4 730.8,1131.4 730.5,1131.3 723.0,1126.9 697.5,1112.8 684.3,1105.3 675.5,1100.0 667.0,1094.7 666.5,1094.4 660.8,1090.7 652.8,1085.4 652.3,1085.0 644.0,1079.6 638.0,1075.5 637.5,1075.1 630.3,1070.0 624.8,1065.9 620.0,1062.1 615.0,1057.7 609.0,1052.5 608.5,1051.9 600.8,1045.2 594.8,1039.7 594.3,1039.2 591.5,1036.6 586.5,1031.8 580.5,1026.0 580.0,1025.4 569.8,1015.4 565.8,1011.4 565.3,1010.8 564.0,1009.6 559.5,1004.9 551.5,996.4 551.0,995.7 548.8,993.4 542.0,986.1 538.5,982.4 537.3,981.1 536.8,980.5 532.8,976.5 522.5,966.6 522.0,966.0 518.8,962.7 510.5,954.2 508.3,951.9 507.8,951.3 498.0,941.9 494.0,937.9 493.5,937.3 491.3,935.0 486.8,930.3 479.3,922.2 478.8,921.5 474.5,916.9 470.0,911.9 465.0,906.1 464.5,905.4 463.3,903.9 460.8,900.6 457.3,895.9 453.3,890.1 450.3,885.5 449.8,884.6 449.0,883.4 447.0,879.9 445.3,876.7 445.0,876.3 444.8,875.8 444.5,875.4 444.3,874.9 444.0,874.5 443.8,873.9 443.5,873.6 443.3,873.0 443.0,872.7 441.8,870.2 441.5,869.8 441.3,869.2 441.0,868.9 440.8,868.3 440.5,867.9 437.8,862.4 437.5,862.0 436.3,859.5 436.0,859.2 435.5,858.1 435.3,857.7 435.0,857.1 434.8,856.8 434.5,856.2 434.3,855.9 432.5,852.6 429.5,847.4 427.0,843.6 424.5,840.1 421.8,836.5 421.3,835.7 415.8,828.7 407.0,818.0 406.5,817.3 399.5,808.7 394.5,802.7 392.8,800.7 392.3,800.0 389.3,796.6 378.5,784.6 378.0,783.9 375.0,780.6 363.8,768.2 363.3,767.6 353.8,757.3 349.5,752.7 349.0,752.1 339.5,741.9 335.3,737.5 334.8,736.9 325.3,726.9 320.5,722.0 320.0,721.4 306.3,707.4 305.8,706.8 302.5,703.5 293.3,693.7 291.5,692.0 291.0,691.3 282.0,682.1 277.3,677.3 276.8,676.7 270.3,670.3 265.8,666.0 258.5,659.4 253.5,655.1 251.5,653.4 249.5,651.9 248.3,651.1 247.8,650.7 244.8,648.7 242.3,647.1 239.8,645.6 237.8,644.6 235.8,643.6 233.5,642.6 231.0,641.7 228.0,640.6 225.5,639.8 221.0,638.7 218.8,638.2 215.3,637.6 209.3,636.7 203.0,636.1 194.5,635.5 184.3,635.1 177.3,634.9 165.5,634.8 132.8,634.8Z" fill="#ff0000"/>
<rect x="582.84" y="913.77" width="3" height="50.99" fill="#0000ff"/>
<path d="M583.1,923.9 583.3,910.2 583.6,901.4 584.1,892.1 584.6,886.2 585.1,881.8 585.8,877.3 586.6,874.1 587.3,872.1 587.8,871.0 588.3,870.3 588.8,869.9 590.1,869.3 591.1,869.0 594.8,869.1 595.6,869.2 596.3,869.4 597.1,869.7 597.8,870.2 597.8,873.7 595.1,873.7 594.1,873.1 593.1,872.8 592.8,872.8 592.3,873.0 591.3,873.6 590.8,874.2 590.3,875.1 589.8,876.3 589.3,877.7 588.6,881.0 587.8,885.6 587.3,890.2 586.8,896.2 586.3,906.1 585.8,927.4 583.1,927.4Z" fill="#0000ff"/>
<path d="M590.9,869.0 594.4,869.0 595.9,869.4 597.9,870.1 599.2,870.6 601.2,871.6 606.2,874.5 608.2,875.8 617.2,881.8 652.4,905.8 668.4,916.4 676.2,921.5 681.9,925.1 687.7,928.5 693.4,931.8 711.9,941.9 731.2,952.5 743.4,959.0 751.7,963.2 770.2,972.4 799.7,987.6 829.2,1002.4 829.2,1005.9 825.7,1005.9 825.4,1005.9 799.7,992.9 770.2,977.7 747.2,966.3 736.9,961.0 726.7,955.5 708.7,945.5 690.2,935.5 684.4,932.2 678.7,928.8 672.9,925.2 667.2,921.5 647.9,908.7 613.9,885.5 603.7,878.7 599.2,876.0 596.7,874.6 595.2,873.9 593.9,873.4 592.2,872.9 590.9,872.5Z" fill="#0000ff"/>
<path d="M132.8,850.4 133.3,849.9 143.0,839.8 143.5,839.4 146.3,836.5 146.8,836.1 149.5,833.2 150.0,832.7 153.3,829.3 153.8,828.9 159.8,822.6 160.3,822.2 163.5,818.8 164.0,818.3 170.5,811.6 171.0,811.1 173.8,808.3 174.3,807.8 177.0,804.9 177.5,804.5 180.8,801.1 181.3,800.6 184.0,797.7 184.5,797.3 187.3,794.4 187.8,793.9 191.0,790.5 191.5,790.1 198.0,783.3 198.5,782.9 204.5,776.7 205.0,776.2 208.3,772.8 208.8,772.4 211.5,769.5 212.0,769.0 214.8,766.1 215.3,765.7 218.5,762.3 219.0,761.8 221.8,759.0 222.3,758.5 225.5,755.1 226.0,754.7 228.8,751.8 229.3,751.3 232.0,748.4 232.5,748.0 242.3,737.9 242.8,737.5 246.0,734.0 246.5,733.6 249.3,730.7 249.8,730.3 253.0,726.9 253.5,726.4 256.3,723.5 256.8,723.1 259.5,720.2 260.0,719.7 263.3,716.3 263.8,715.9 269.8,709.7 270.3,709.2 276.8,702.5 277.3,702.0 280.5,698.6 281.0,698.2 287.0,692.0 287.5,691.6 290.8,688.2 291.3,687.7 297.3,681.5 297.8,681.1 301.0,677.6 301.5,677.2 304.3,674.3 305.3,673.3 308.0,670.3 308.5,669.8 314.5,663.4 315.0,662.9 318.3,659.4 318.8,658.9 322.0,655.3 324.8,651.8 327.0,649.4 328.5,647.9 331.3,645.5 333.0,644.2 334.0,643.6 336.8,642.2 338.8,641.4 340.0,641.0 341.5,640.8 347.3,640.8 349.3,640.9 351.5,641.2 353.0,641.4 353.8,641.6 354.8,642.0 355.8,642.6 357.0,643.4 361.3,646.8 364.0,649.4 365.8,651.2 367.3,652.6 367.8,653.0 373.8,658.5 380.8,664.6 381.3,665.0 387.8,670.6 391.0,673.3 394.3,675.8 396.5,677.5 400.8,680.5 405.0,683.2 408.8,685.5 415.3,689.7 421.8,693.7 432.5,700.0 435.8,701.7 438.5,702.9 441.8,704.2 445.0,705.2 449.8,706.5 451.5,706.9 453.0,707.1 458.0,707.3 477.8,707.6 484.3,707.8 488.0,708.0 491.3,708.3 495.0,708.7 498.3,709.1 501.5,709.8 504.8,710.8 505.8,711.2 507.3,711.8 509.0,712.7 510.5,713.6 512.3,714.7 513.8,716.0 516.0,718.3 518.8,721.6 519.8,722.9 520.8,724.4 522.5,727.2 525.3,732.0 525.8,732.8 528.5,737.4 529.0,738.2 535.5,749.3 536.5,750.9 540.3,757.5 542.5,761.8 543.0,762.6 545.8,768.0 546.3,768.9 549.0,774.6 549.5,775.5 552.8,782.4 553.3,783.3 556.0,789.4 556.5,790.4 559.3,796.7 559.8,797.7 563.0,805.4 563.5,806.4 566.3,813.2 566.8,814.3 569.3,820.5 569.3,824.2 565.8,824.2 562.5,816.0 562.0,815.0 559.3,808.2 558.8,807.2 555.5,799.5 555.0,798.6 552.3,792.3 551.8,791.3 549.0,785.3 548.5,784.4 546.3,779.6 542.5,772.0 541.5,770.1 538.8,764.7 538.3,763.9 537.0,761.5 535.0,757.9 534.5,757.1 532.8,754.0 531.8,752.3 531.3,751.6 524.8,740.5 524.3,739.7 521.5,735.0 521.0,734.3 519.3,731.2 517.8,728.7 515.5,725.5 513.3,722.7 511.3,720.5 509.0,718.5 507.5,717.4 505.8,716.4 504.3,715.6 502.5,714.8 500.5,714.1 498.3,713.4 496.0,712.9 494.5,712.6 491.3,712.1 487.5,711.8 483.8,711.5 480.5,711.3 473.5,711.1 454.8,710.8 449.5,710.6 448.3,710.4 446.8,710.1 441.3,708.7 438.0,707.6 434.3,706.1 431.5,704.8 428.3,703.1 417.5,696.8 411.0,692.8 407.8,690.6 400.8,686.3 397.0,683.8 392.8,680.9 390.0,678.8 386.8,676.2 383.5,673.5 377.0,667.8 376.5,667.5 369.5,661.4 365.8,658.0 362.5,655.0 359.8,652.2 358.0,650.5 357.0,649.7 352.8,646.4 351.0,645.4 350.0,645.0 349.5,644.9 347.3,644.6 344.5,644.3 343.0,644.7 341.5,645.2 338.3,646.7 337.3,647.2 336.0,648.0 334.5,649.2 332.8,650.8 330.8,652.6 329.0,654.5 326.3,657.9 323.0,661.6 322.5,662.1 319.3,665.6 318.8,666.1 316.0,669.1 315.5,669.5 309.0,676.5 308.5,677.0 302.0,683.8 301.5,684.3 298.8,687.2 298.3,687.6 295.5,690.5 295.0,690.9 288.5,697.6 288.0,698.1 285.3,700.9 284.8,701.4 278.3,708.1 277.8,708.6 274.5,712.0 274.0,712.4 264.3,722.5 263.8,722.9 261.0,725.8 260.5,726.3 257.8,729.2 257.3,729.6 254.0,733.0 253.5,733.5 250.8,736.4 250.3,736.8 247.5,739.7 247.0,740.1 243.8,743.6 243.3,744.0 240.5,746.9 240.0,747.3 236.8,750.7 236.3,751.2 233.5,754.1 233.0,754.5 230.3,757.4 229.8,757.9 220.0,767.9 219.5,768.4 216.3,771.8 215.8,772.2 213.0,775.1 212.5,775.6 209.3,779.0 208.8,779.4 206.0,782.3 205.5,782.8 202.8,785.7 202.3,786.1 192.5,796.2 192.0,796.6 188.8,800.0 188.3,800.5 185.5,803.4 185.0,803.8 181.8,807.2 181.3,807.7 178.5,810.6 178.0,811.0 175.3,813.9 174.8,814.3 165.0,824.4 164.5,824.9 161.3,828.3 160.8,828.7 158.0,831.6 157.5,832.1 154.3,835.5 153.8,835.9 151.0,838.8 150.5,839.3 147.8,842.1 147.3,842.6 137.5,852.7 136.3,853.9 132.8,853.9Z" fill="#ff00ff"/>
<path d="M551.8,786.9 554.5,786.9 554.8,787.3 556.5,791.1 559.5,797.8 562.5,804.8 565.3,811.4 572.3,829.0 574.0,833.7 575.5,838.1 577.0,842.8 578.5,847.9 579.5,851.6 580.3,854.7 581.8,861.6 582.8,867.1 583.8,874.3 584.5,881.6 585.0,889.2 585.3,895.1 585.5,906.2 585.5,922.0 583.0,922.0 582.5,900.3 582.3,893.5 582.0,889.0 581.5,882.8 580.8,876.2 579.8,869.4 578.3,861.7 576.8,855.3 575.3,849.8 572.8,841.7 571.3,837.4 569.3,832.0 563.5,817.5 559.8,808.4 555.8,799.1 551.8,790.4Z" fill="#ff00ff"/>
<path d="M132.8,726.1 134.3,725.5 134.5,725.3 135.8,724.7 138.8,723.1 139.0,722.9 141.8,721.3 142.0,721.1 143.3,720.3 143.5,720.1 144.8,719.3 145.0,719.1 146.3,718.3 146.5,718.0 147.8,717.2 148.0,716.9 149.3,716.1 149.5,715.8 150.8,714.9 151.0,714.6 152.3,713.7 152.5,713.4 153.8,712.4 154.0,712.1 155.5,710.9 155.8,710.6 157.0,709.6 157.3,709.3 158.5,708.3 158.8,708.0 160.0,706.9 160.3,706.6 161.5,705.6 161.8,705.3 163.0,704.2 163.3,703.9 164.5,702.9 164.8,702.5 166.0,701.5 166.3,701.1 167.5,700.1 167.8,699.7 169.0,698.6 169.3,698.3 170.5,697.2 170.8,696.9 172.0,695.8 172.3,695.4 173.5,694.3 173.8,694.0 175.0,692.9 175.3,692.5 176.8,691.2 177.0,690.8 178.3,689.7 178.5,689.4 181.3,686.8 181.5,686.4 182.8,685.3 183.0,684.9 184.3,683.8 184.5,683.5 185.8,682.3 186.0,682.0 188.8,679.3 189.0,679.0 190.3,677.8 190.5,677.5 191.8,676.4 192.0,676.0 193.3,674.9 193.5,674.5 196.3,671.9 196.5,671.5 197.8,670.4 198.0,670.0 199.5,668.6 199.8,668.3 201.0,667.2 201.3,666.8 202.5,665.7 202.8,665.4 204.0,664.3 204.3,663.9 205.5,662.8 205.8,662.5 207.0,661.4 207.3,661.1 208.5,660.0 208.8,659.6 210.0,658.5 210.3,658.2 211.5,657.1 211.8,656.7 213.0,655.7 213.3,655.4 214.5,654.3 214.8,654.0 216.0,653.0 216.3,652.7 217.5,651.7 217.8,651.5 219.0,650.6 219.3,650.3 220.8,649.3 221.0,649.1 222.3,648.2 222.5,648.0 223.8,647.2 224.0,647.0 225.3,646.2 225.5,646.0 226.8,645.3 227.0,645.1 231.5,642.5 236.0,640.3 240.5,638.3 243.8,637.1 246.8,636.1 251.3,635.0 255.8,634.1 260.3,633.3 266.5,632.6 272.5,632.1 278.5,631.8 289.3,631.6 310.5,631.6 318.0,631.7 324.0,631.9 325.5,632.0 328.5,632.5 331.8,633.2 333.3,633.6 334.8,634.0 337.8,635.1 339.3,635.8 340.8,636.6 341.0,636.9 342.3,637.6 342.5,637.9 343.8,638.7 344.0,639.0 345.3,639.9 345.5,640.1 346.8,641.1 347.0,641.4 348.3,642.5 348.5,642.8 349.8,644.0 350.0,644.4 351.5,645.9 351.8,646.4 353.0,647.8 353.3,648.2 354.5,649.8 354.8,650.3 356.0,652.1 356.3,652.7 357.5,654.5 357.8,655.1 359.0,657.1 359.3,657.6 360.5,659.6 360.8,660.2 362.0,662.1 362.3,662.7 363.5,664.7 363.8,665.4 365.0,667.4 365.3,668.1 366.5,670.2 366.8,670.8 368.0,673.0 368.3,673.6 369.5,675.8 369.8,676.5 371.0,678.8 371.3,679.5 372.5,681.7 372.8,682.4 374.3,685.1 374.5,685.7 375.8,687.8 376.0,688.4 377.3,690.5 377.5,691.2 378.8,693.2 379.0,693.8 380.3,695.8 380.5,696.4 381.8,698.3 382.0,698.9 383.3,700.8 383.5,701.4 384.8,703.2 385.0,703.7 386.3,705.5 386.5,706.1 387.8,707.8 388.0,708.3 389.3,710.0 389.5,710.5 390.8,712.2 391.0,712.6 392.3,714.3 392.5,714.7 393.8,716.3 394.0,716.7 395.5,718.5 395.8,718.9 397.0,720.3 397.3,720.8 398.5,722.1 398.8,722.5 400.0,723.8 400.3,724.1 401.5,725.4 401.8,725.8 403.0,727.0 403.3,727.3 404.5,728.5 404.8,728.8 406.0,730.0 406.3,730.3 407.5,731.4 407.8,731.7 409.0,732.8 409.3,733.1 410.5,734.1 410.8,734.4 412.0,735.3 412.3,735.6 413.5,736.5 413.8,736.8 415.0,737.7 415.3,738.0 416.5,738.8 416.8,739.1 418.3,740.1 418.5,740.4 419.8,741.2 420.0,741.4 421.3,742.2 421.5,742.4 422.8,743.2 423.0,743.4 424.3,744.1 424.5,744.3 427.3,745.8 427.5,746.0 428.8,746.6 429.0,746.8 433.5,749.0 436.5,750.3 438.0,750.9 442.8,752.4 444.5,752.9 446.3,753.1 450.8,753.1 451.3,753.1 452.8,752.7 454.3,752.2 456.0,751.4 458.8,750.3 462.0,748.7 465.0,747.1 468.0,745.1 468.3,744.9 469.5,744.0 469.8,743.8 471.0,742.9 471.3,742.6 472.5,741.7 472.8,741.4 475.5,739.3 475.8,739.0 477.0,738.0 477.3,737.7 480.0,735.6 480.3,735.3 481.5,734.4 481.8,734.1 483.0,733.1 483.3,732.8 484.8,731.6 485.0,731.3 487.8,729.0 488.0,728.7 489.3,727.8 489.5,727.5 490.8,726.5 491.0,726.3 492.3,725.4 492.5,725.1 493.8,724.3 494.0,724.1 496.8,722.3 497.0,722.0 498.3,721.3 498.5,721.1 500.0,720.3 503.0,719.0 504.5,718.4 506.3,717.9 507.8,717.6 510.8,717.2 513.3,717.0 517.8,717.0 518.3,717.0 519.5,717.3 521.3,717.9 522.8,718.7 523.0,718.9 524.3,719.5 524.5,719.7 525.8,720.3 527.5,721.4 527.8,721.6 529.0,722.4 529.3,722.7 530.5,723.6 530.8,723.9 532.0,725.0 532.3,725.3 533.5,726.4 533.8,726.7 535.0,727.8 535.3,728.2 536.5,729.3 536.8,729.7 538.0,730.8 538.3,731.2 539.5,732.3 539.8,732.6 541.0,733.8 541.3,734.1 542.5,735.2 542.8,735.6 544.0,736.8 544.3,737.1 545.5,738.3 545.8,738.7 547.0,739.9 547.3,740.3 548.8,741.8 549.0,742.1 550.3,743.4 550.5,743.8 551.8,745.0 552.0,745.4 553.3,746.6 553.5,747.0 554.8,748.2 555.0,748.6 556.3,749.8 556.5,750.1 557.8,751.3 558.0,751.7 559.3,752.9 559.5,753.3 560.8,754.5 561.0,754.8 562.3,756.0 562.5,756.4 563.8,757.6 564.0,758.0 565.3,759.2 565.5,759.6 566.8,760.8 567.0,761.1 568.3,762.3 568.5,762.7 569.8,763.9 570.0,764.3 571.5,765.8 571.8,766.2 573.0,767.4 573.3,767.8 576.0,770.6 576.3,771.0 577.5,772.3 577.8,772.6 579.0,773.9 579.3,774.3 580.5,775.5 580.8,775.9 582.0,777.1 582.3,777.4 583.5,778.6 583.8,779.0 585.0,780.2 585.3,780.5 586.5,781.7 586.8,782.0 588.0,783.2 588.3,783.6 589.5,784.7 589.8,785.1 591.0,786.2 591.3,786.6 592.8,787.9 593.0,788.3 594.3,789.4 594.5,789.7 595.8,790.8 596.0,791.1 597.3,792.2 597.5,792.6 598.8,793.6 599.0,794.0 600.3,795.0 600.5,795.3 601.8,796.4 602.0,796.7 603.3,797.8 603.5,798.1 604.8,799.1 605.0,799.4 606.3,800.4 606.5,800.7 607.8,801.7 608.0,802.0 610.8,804.3 611.0,804.6 612.3,805.6 612.5,805.9 613.8,806.8 614.0,807.1 615.5,808.2 615.8,808.5 617.0,809.4 617.3,809.7 620.0,811.8 620.3,812.0 623.0,814.1 623.3,814.3 624.5,815.2 624.8,815.5 626.0,816.3 626.3,816.6 627.5,817.5 627.8,817.7 629.0,818.6 629.3,818.9 630.5,819.7 630.8,820.0 633.5,822.0 633.8,822.2 635.0,823.1 635.3,823.3 636.8,824.4 637.0,824.6 639.8,826.6 640.0,826.8 641.3,827.6 641.5,827.9 642.8,828.7 643.0,829.0 644.3,829.8 644.5,830.1 645.8,830.9 646.0,831.1 647.3,832.0 647.5,832.2 650.3,834.1 650.5,834.3 651.8,835.1 652.0,835.4 654.8,837.1 655.0,837.4 656.3,838.1 656.5,838.3 657.8,839.0 658.0,839.2 659.5,840.1 659.8,840.3 661.0,840.9 661.3,841.1 670.0,846.0 670.3,846.2 674.5,848.6 674.8,848.8 676.0,849.5 676.3,849.7 677.5,850.3 677.8,850.5 680.8,852.2 681.0,852.4 685.3,854.8 685.5,855.0 686.8,855.6 687.0,855.8 688.3,856.5 688.5,856.7 689.8,857.3 690.0,857.5 691.3,858.2 691.5,858.4 697.3,861.7 697.5,861.9 698.8,862.5 699.0,862.7 700.3,863.4 700.5,863.6 702.0,864.4 702.3,864.6 706.5,866.9 706.8,867.1 708.0,867.7 708.3,867.9 712.5,870.2 712.8,870.4 714.0,871.0 714.3,871.2 715.5,871.8 715.8,872.0 720.0,874.1 720.3,874.3 721.5,874.9 721.8,875.1 723.0,875.6 723.3,875.8 739.8,883.9 740.0,884.1 744.3,886.2 744.5,886.4 746.0,887.1 746.3,887.3 747.5,887.8 747.8,888.0 749.0,888.6 749.3,888.8 750.5,889.3 750.8,889.5 764.0,896.1 764.3,896.3 767.0,897.6 767.3,897.8 768.8,898.5 769.0,898.7 770.3,899.3 770.5,899.5 771.8,900.0 772.0,900.2 773.3,900.8 773.5,901.0 779.3,903.9 779.5,904.1 780.8,904.7 781.0,904.9 782.3,905.5 782.5,905.6 788.3,908.6 788.5,908.8 790.0,909.5 791.8,910.4 797.5,913.3 797.8,913.5 799.0,914.1 799.3,914.2 816.0,922.4 825.0,926.7 829.0,928.6 829.0,932.1 825.8,932.1 825.5,932.1 820.3,929.6 820.0,929.5 818.8,928.9 818.5,928.8 809.5,924.5 809.3,924.3 808.0,923.8 807.8,923.6 806.5,923.0 806.3,922.9 799.0,919.3 798.8,919.2 797.5,918.6 797.3,918.4 791.5,915.6 791.3,915.4 789.8,914.7 789.5,914.5 788.3,913.9 788.0,913.7 786.8,913.1 786.5,913.0 777.8,908.5 777.5,908.3 776.3,907.7 776.0,907.5 774.8,906.9 774.5,906.7 771.8,905.4 771.5,905.2 762.5,900.7 762.3,900.5 761.0,899.9 760.8,899.7 759.5,899.2 759.3,899.0 747.5,893.1 747.3,893.0 745.8,892.3 745.5,892.1 744.3,891.5 744.0,891.3 742.8,890.8 742.5,890.6 735.3,887.0 735.0,886.8 721.5,880.2 721.3,880.0 720.0,879.4 719.8,879.3 718.5,878.7 718.3,878.5 714.0,876.4 713.8,876.2 712.5,875.6 712.3,875.4 708.0,873.2 707.8,873.0 706.5,872.4 706.3,872.2 705.0,871.6 704.8,871.4 700.3,868.9 700.0,868.7 697.3,867.2 697.0,867.0 695.8,866.4 695.5,866.2 694.3,865.5 694.0,865.3 688.3,862.0 688.0,861.8 686.8,861.2 686.5,861.0 685.3,860.3 685.0,860.1 683.8,859.4 683.5,859.2 676.0,855.0 675.8,854.8 674.5,854.2 674.3,854.0 673.0,853.3 672.8,853.1 667.0,849.8 666.8,849.6 662.5,847.3 662.3,847.1 661.0,846.4 660.8,846.3 659.5,845.6 659.3,845.4 657.8,844.6 657.5,844.4 656.3,843.8 656.0,843.6 653.3,842.0 653.0,841.7 651.8,841.0 651.5,840.8 648.8,839.0 648.5,838.8 647.3,838.0 647.0,837.8 644.3,835.9 644.0,835.6 642.8,834.8 642.5,834.6 639.8,832.6 639.5,832.4 638.3,831.6 638.0,831.3 636.5,830.3 636.3,830.1 633.5,828.1 633.3,827.9 632.0,827.0 631.8,826.8 629.0,824.8 628.8,824.5 627.5,823.7 627.3,823.4 626.0,822.5 625.8,822.3 624.5,821.4 624.3,821.2 623.0,820.3 622.8,820.0 621.5,819.1 621.3,818.9 618.5,816.8 618.3,816.6 615.5,814.5 615.3,814.3 613.8,813.2 613.5,812.9 612.3,812.0 612.0,811.7 609.3,809.5 609.0,809.3 607.8,808.3 607.5,808.0 604.8,805.7 604.5,805.4 603.3,804.4 603.0,804.1 601.8,803.1 601.5,802.8 600.3,801.8 600.0,801.5 598.8,800.4 598.5,800.1 597.3,799.1 597.0,798.7 595.8,797.7 595.5,797.4 594.3,796.3 594.0,796.0 592.5,794.6 592.3,794.3 591.0,793.2 590.8,792.9 589.5,791.8 589.3,791.4 588.0,790.3 587.8,789.9 586.5,788.8 586.3,788.4 585.0,787.3 584.8,786.9 583.5,785.8 583.3,785.4 582.0,784.3 581.8,783.9 580.5,782.7 580.3,782.4 579.0,781.2 578.8,780.8 577.5,779.6 577.3,779.2 576.0,778.0 575.8,777.6 574.5,776.4 574.3,776.0 573.0,774.8 572.8,774.4 571.5,773.1 571.3,772.8 569.8,771.3 569.5,770.9 568.3,769.7 568.0,769.3 566.8,768.0 566.5,767.7 565.3,766.5 565.0,766.1 563.8,764.9 563.5,764.5 562.3,763.3 562.0,762.9 560.8,761.7 560.5,761.4 559.3,760.2 559.0,759.8 557.8,758.6 557.5,758.2 556.3,757.0 556.0,756.7 554.8,755.4 554.5,755.1 553.3,753.9 553.0,753.5 551.8,752.3 551.5,751.9 550.3,750.7 550.0,750.4 548.5,748.9 548.3,748.5 547.0,747.3 546.8,746.9 545.5,745.6 545.3,745.3 544.0,744.0 543.8,743.7 542.5,742.4 542.3,742.1 541.0,740.9 540.8,740.5 539.5,739.3 539.3,739.0 538.0,737.8 537.8,737.5 536.5,736.4 536.3,736.0 535.0,734.9 534.8,734.5 533.5,733.4 533.3,733.0 532.0,731.9 531.8,731.5 530.5,730.4 530.3,730.1 529.0,729.0 528.8,728.7 527.3,727.4 527.0,727.1 525.8,726.2 525.5,725.9 524.3,725.1 524.0,724.9 522.5,724.0 519.8,722.5 519.5,722.3 518.0,721.5 516.5,720.9 515.0,720.6 511.0,721.1 509.5,721.5 508.0,721.9 506.5,722.5 503.3,723.9 501.8,724.7 501.5,724.9 500.3,725.7 500.0,725.9 497.3,727.7 497.0,728.0 495.8,728.8 495.5,729.1 494.3,730.0 494.0,730.2 492.8,731.2 492.5,731.5 491.3,732.4 491.0,732.7 488.3,735.0 488.0,735.3 486.8,736.3 486.5,736.6 485.3,737.6 485.0,737.9 483.8,738.8 483.5,739.1 482.0,740.2 481.8,740.5 480.5,741.4 480.3,741.7 479.0,742.7 478.8,742.9 476.0,745.1 475.8,745.4 474.5,746.3 474.3,746.6 473.0,747.5 472.8,747.7 471.5,748.5 471.3,748.8 468.3,750.7 465.3,752.4 462.3,753.8 460.8,754.3 457.5,755.8 456.0,756.3 454.5,756.6 453.8,756.6 443.0,756.6 441.0,756.4 439.3,755.9 434.8,754.5 431.8,753.3 430.3,752.7 427.3,751.2 421.3,747.9 421.0,747.7 419.8,747.0 419.5,746.8 418.3,746.1 418.0,745.8 416.5,744.9 416.3,744.7 415.0,743.9 414.8,743.6 413.5,742.8 413.3,742.5 412.0,741.6 411.8,741.4 410.5,740.5 410.3,740.2 409.0,739.3 408.8,739.0 407.5,738.1 407.3,737.8 406.0,736.8 405.8,736.5 404.5,735.4 404.3,735.1 403.0,734.0 402.8,733.7 401.5,732.6 401.3,732.2 400.0,731.0 399.8,730.7 398.5,729.5 398.3,729.1 397.0,727.9 396.8,727.5 395.3,726.0 395.0,725.6 393.8,724.3 393.5,723.8 392.3,722.4 392.0,722.0 390.8,720.5 390.5,720.1 389.3,718.5 389.0,718.1 387.8,716.5 387.5,716.0 386.3,714.3 386.0,713.8 384.8,712.2 384.5,711.7 383.3,709.9 383.0,709.4 381.8,707.6 381.5,707.1 380.3,705.2 380.0,704.7 378.8,702.8 378.5,702.2 377.3,700.3 377.0,699.7 375.8,697.7 375.5,697.1 374.3,695.1 374.0,694.5 372.5,691.9 372.3,691.3 371.0,689.2 370.8,688.6 369.5,686.4 369.3,685.7 368.0,683.4 367.8,682.8 366.5,680.5 366.3,679.8 365.0,677.6 364.8,676.9 363.5,674.7 363.3,674.1 362.0,672.0 361.8,671.4 360.5,669.3 360.3,668.7 359.0,666.6 358.8,666.0 357.5,664.0 357.3,663.5 356.0,661.5 355.8,661.0 354.5,659.0 354.3,658.4 353.0,656.5 352.8,656.0 351.3,653.8 351.0,653.3 349.8,651.7 349.5,651.3 348.3,649.9 348.0,649.4 346.8,648.1 346.5,647.8 345.3,646.6 345.0,646.2 343.8,645.1 343.5,644.8 342.3,643.8 342.0,643.5 340.8,642.6 340.5,642.4 339.3,641.5 339.0,641.3 337.8,640.5 337.5,640.3 336.0,639.4 334.5,638.7 331.5,637.6 329.8,637.1 325.3,636.0 322.3,635.5 320.8,635.4 314.8,635.2 307.5,635.1 292.5,635.1 281.8,635.3 275.8,635.6 269.8,636.1 263.5,636.9 259.0,637.6 254.5,638.5 250.0,639.7 247.0,640.7 244.0,641.8 239.3,643.9 236.3,645.3 233.3,646.9 228.8,649.7 228.5,649.9 227.3,650.6 227.0,650.9 225.8,651.7 225.5,651.9 224.3,652.7 224.0,653.0 222.8,653.8 222.5,654.1 221.3,655.0 221.0,655.2 219.5,656.4 219.3,656.7 218.0,657.7 217.8,658.0 216.5,659.1 216.3,659.4 215.0,660.5 214.8,660.8 213.5,661.9 213.3,662.2 212.0,663.3 211.8,663.7 210.5,664.8 210.3,665.1 209.0,666.2 208.8,666.6 207.5,667.6 207.3,668.0 206.0,669.1 205.8,669.4 204.5,670.6 204.3,670.9 203.0,672.0 202.8,672.4 201.5,673.5 201.3,673.9 198.5,676.5 198.3,676.9 196.8,678.3 196.5,678.6 195.3,679.7 195.0,680.1 193.8,681.2 193.5,681.6 192.3,682.7 192.0,683.1 189.3,685.7 189.0,686.0 187.8,687.2 187.5,687.5 186.3,688.7 186.0,689.0 184.8,690.2 184.5,690.5 181.8,693.1 181.5,693.4 180.3,694.6 180.0,694.9 178.8,696.0 178.5,696.4 177.3,697.5 177.0,697.8 175.5,699.1 175.3,699.5 174.0,700.6 173.8,700.9 172.5,702.0 172.3,702.4 171.0,703.5 170.8,703.8 169.5,704.9 169.3,705.2 168.0,706.3 167.8,706.6 166.5,707.6 166.3,707.9 165.0,709.0 164.8,709.3 163.5,710.3 163.3,710.6 162.0,711.7 161.8,712.0 159.0,714.3 158.8,714.6 157.5,715.6 157.3,715.9 156.0,716.9 155.8,717.2 154.5,718.1 154.3,718.4 152.8,719.5 152.5,719.7 151.3,720.6 151.0,720.9 149.8,721.7 149.5,721.9 148.3,722.7 148.0,723.0 146.8,723.7 146.5,724.0 145.3,724.7 145.0,724.9 143.8,725.6 143.5,725.8 139.0,728.3 136.3,729.6 132.8,729.6Z" fill="#00ff00"/>
</g>
<line x1="232" x2="319" y1="27.3" y2="27.3" stroke="#808080" stroke-width="6.2"/>
<text x="212.3" y="34.7" text-anchor="end" font-size="32">n<tspan font-size="25.5" dy="9.8">e</tspan></text>
<line x1="232" x2="319" y1="60.0" y2="60.0" stroke="#0000ff" stroke-width="3.2"/>
<text x="212.3" y="67.4" text-anchor="end" font-size="32">n<tspan font-size="25.5" dy="9.8">i,H</tspan></text>
<line x1="232" x2="319" y1="92.7" y2="92.7" stroke="#ff00ff" stroke-width="3.2"/>
<text x="212.3" y="100.10000000000001" text-anchor="end" font-size="32">n<tspan font-size="25.5" dy="9.8">i,M</tspan></text>
<line x1="232" x2="319" y1="125.4" y2="125.4" stroke="#ff0000" stroke-width="3.2"/>
<text x="212.3" y="132.8" text-anchor="end" font-size="32">n<tspan font-size="25.5" dy="9.8">g-</tspan></text>
<line x1="232" x2="319" y1="158.1" y2="158.1" stroke="#00ff00" stroke-width="3.2"/>
<text x="212.3" y="165.5" text-anchor="end" font-size="32">n<tspan font-size="25.5" dy="9.8">g0</tspan></text>
<line x1="232" x2="319" y1="190.8" y2="190.8" stroke="#000" stroke-width="3.2"/>
<text x="212.3" y="198.20000000000002" text-anchor="end" font-size="32">n<tspan font-size="25.5" dy="9.8">g+</tspan></text>
<line x1="232" x2="319" y1="1007.8" y2="1007.8" stroke="#ff0000" stroke-width="3.2"/>
<text x="212.3" y="1015.1999999999999" text-anchor="end" font-size="32"><tspan font-size="33.5" textLength="19.5" lengthAdjust="spacingAndGlyphs">η</tspan><tspan font-size="25.5" dy="10.4">OR</tspan></text>
<line x1="232" x2="319" y1="1040.6" y2="1040.6" stroke="#0000ff" stroke-width="3.2"/>
<text x="212.3" y="1048.0" text-anchor="end" font-size="32"><tspan font-size="33.5" textLength="19.5" lengthAdjust="spacingAndGlyphs">η</tspan><tspan font-size="25.5" dy="10.4">HE</tspan></text>
<line x1="232" x2="319" y1="1073.3" y2="1073.3" stroke="#ff00ff" stroke-width="3.2"/>
<text x="212.3" y="1080.7" text-anchor="end" font-size="32">-<tspan font-size="33.5" textLength="19.5" lengthAdjust="spacingAndGlyphs">η</tspan><tspan font-size="25.5" dy="10.4">HE</tspan></text>
<line x1="232" x2="319" y1="1106.0" y2="1106.0" stroke="#00ff00" stroke-width="3.2"/>
<text x="212.3" y="1113.4" text-anchor="end" font-size="32"><tspan font-size="33.5" textLength="19.5" lengthAdjust="spacingAndGlyphs">η</tspan><tspan font-size="25.5" dy="10.4">AD</tspan></text>
<g stroke="#000" fill="none" stroke-width="1.9">
<rect x="134.6" y="2.9" width="692.8" height="1127.3"/>
<line x1="134.6" x2="827.4" y1="566.9" y2="566.9"/>
</g>
<g font-size="32" fill="#000">
<text x="114.3" y="37.00" text-anchor="end">5</text>
<text x="114.3" y="154.50" text-anchor="end">0</text>
<text x="114.3" y="272.00" text-anchor="end">-5</text>
<text x="114.3" y="389.50" text-anchor="end">-10</text>
<text x="114.3" y="507.00" text-anchor="end">-15</text>
<text x="114.3" y="1140.80" text-anchor="end">6</text>
<text x="114.3" y="1081.51" text-anchor="end">8</text>
<text x="114.3" y="1022.21" text-anchor="end">10</text>
<text x="114.3" y="962.92" text-anchor="end">12</text>
<text x="114.3" y="903.62" text-anchor="end">14</text>
<text x="114.3" y="844.33" text-anchor="end">16</text>
<text x="114.3" y="785.03" text-anchor="end">18</text>
<text x="114.3" y="725.74" text-anchor="end">20</text>
<text x="114.3" y="666.44" text-anchor="end">22</text>
<text x="114.3" y="607.15" text-anchor="end">24</text>
<text x="192.33" y="1174.2" text-anchor="middle">-30</text>
<text x="336.67" y="1174.2" text-anchor="middle">-25</text>
<text x="481.00" y="1174.2" text-anchor="middle">-20</text>
<text x="625.33" y="1174.2" text-anchor="middle">-15</text>
<text x="769.67" y="1174.2" text-anchor="middle">-10</text>
<text x="406" y="1222.7">log <tspan dx="2.6" font-size="35">ζ</tspan><tspan font-size="25.5" dy="8.4">cr</tspan><tspan dy="-8.4"> (s</tspan><tspan font-size="25.5" dy="-15.7" dx="1.3">-1</tspan><tspan dy="15.7">)</tspan></text>
<text transform="translate(34.9,363.2) rotate(-90)">log n (cm<tspan font-size="25.5" dy="-15.7" dx="1.0">-3</tspan><tspan dy="15.7">)</tspan></text>
<text transform="translate(35.1,945) rotate(-90)">log <tspan font-size="33.5" textLength="19.5" lengthAdjust="spacingAndGlyphs">η</tspan> (cm<tspan font-size="25.5" dy="-15.7" dx="2.2">2</tspan><tspan dy="15.7"> s</tspan><tspan font-size="25.5" dy="-15.7" dx="1.3">-1</tspan><tspan dy="15.7">)</tspan></text>
</g>
</svg>
</body></html>
